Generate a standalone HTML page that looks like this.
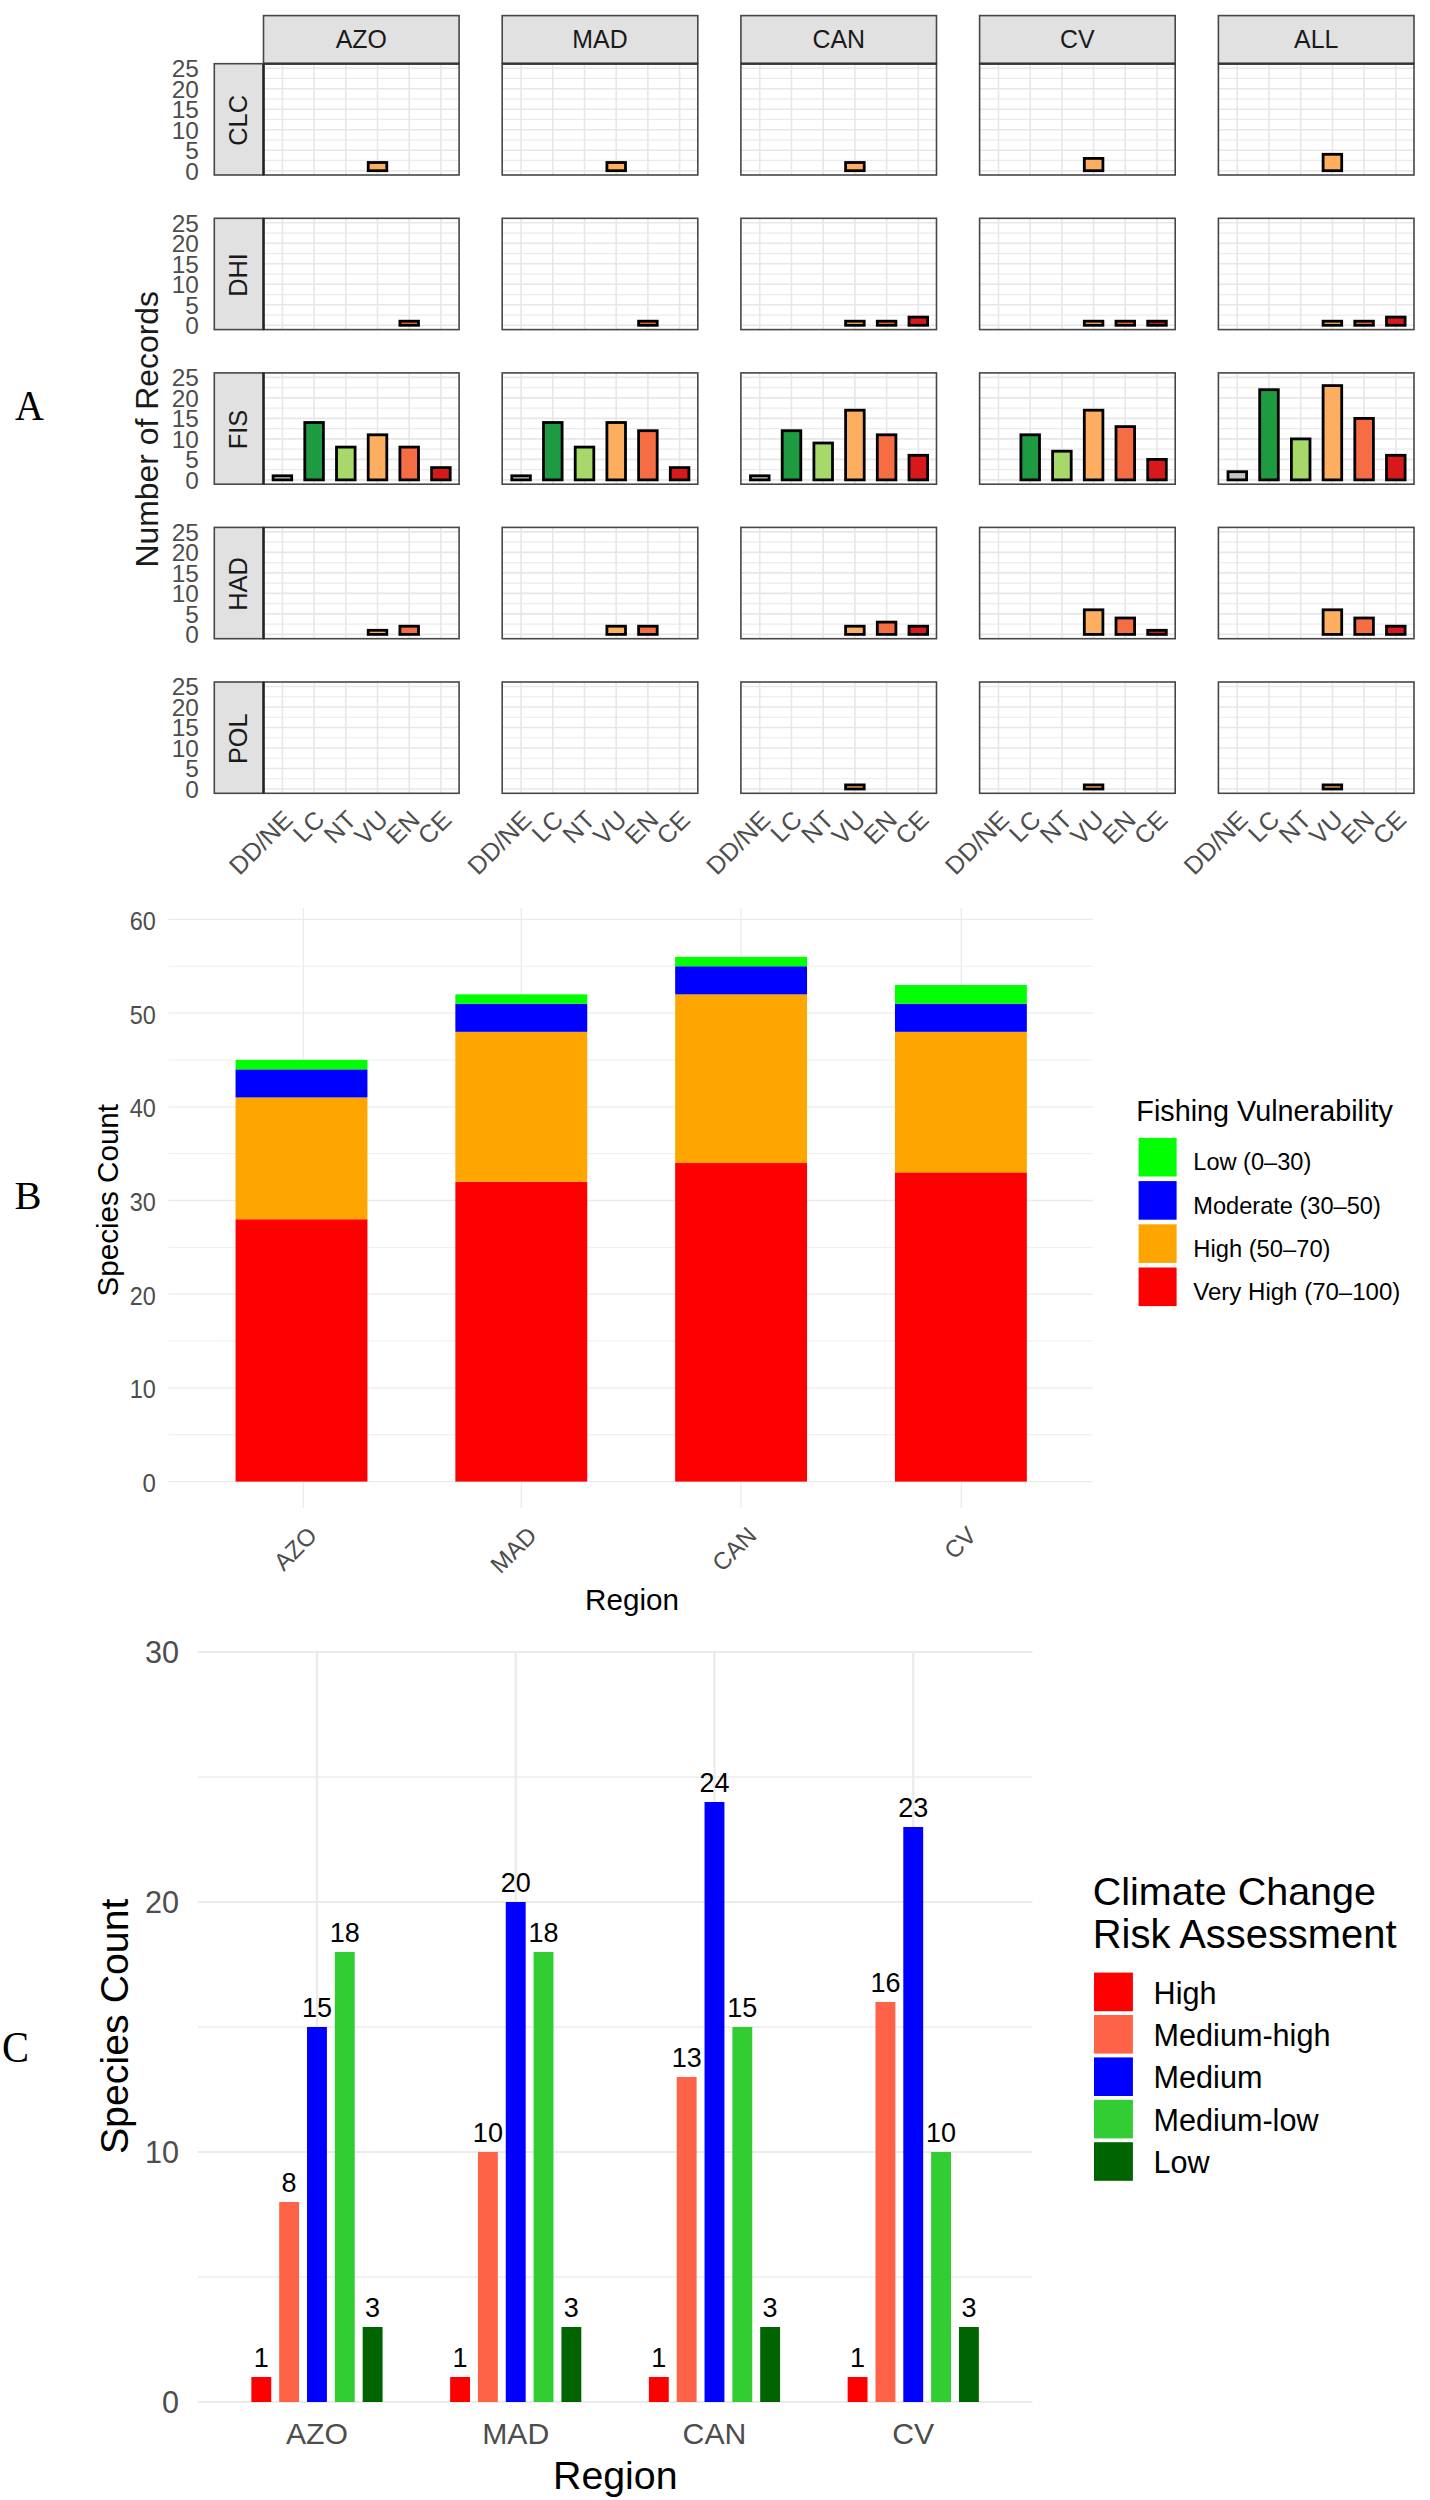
<!DOCTYPE html>
<html><head><meta charset="utf-8"><title>Figure</title>
<style>html,body{margin:0;padding:0;background:#fff;}svg{display:block;}
text{font-family:"Liberation Sans", sans-serif;}</style></head>
<body>
<svg width="1430" height="2500" viewBox="0 0 1430 2500" font-family="'Liberation Sans', sans-serif">
<rect x="0" y="0" width="1430" height="2500" fill="#fff"/>
<rect x="263.5" y="63.7" width="195.6" height="111.3" fill="#fff"/>
<line x1="263.5" x2="459.1" y1="160.45" y2="160.45" stroke="#ebebeb" stroke-width="1.2"/>
<line x1="263.5" x2="459.1" y1="139.95" y2="139.95" stroke="#ebebeb" stroke-width="1.2"/>
<line x1="263.5" x2="459.1" y1="119.45" y2="119.45" stroke="#ebebeb" stroke-width="1.2"/>
<line x1="263.5" x2="459.1" y1="98.95" y2="98.95" stroke="#ebebeb" stroke-width="1.2"/>
<line x1="263.5" x2="459.1" y1="78.45" y2="78.45" stroke="#ebebeb" stroke-width="1.2"/>
<line x1="263.5" x2="459.1" y1="170.7" y2="170.7" stroke="#e7e7e7" stroke-width="1.6"/>
<line x1="263.5" x2="459.1" y1="150.2" y2="150.2" stroke="#e7e7e7" stroke-width="1.6"/>
<line x1="263.5" x2="459.1" y1="129.7" y2="129.7" stroke="#e7e7e7" stroke-width="1.6"/>
<line x1="263.5" x2="459.1" y1="109.2" y2="109.2" stroke="#e7e7e7" stroke-width="1.6"/>
<line x1="263.5" x2="459.1" y1="88.7" y2="88.7" stroke="#e7e7e7" stroke-width="1.6"/>
<line x1="263.5" x2="459.1" y1="68.2" y2="68.2" stroke="#e7e7e7" stroke-width="1.6"/>
<line x1="282.4" x2="282.4" y1="63.7" y2="175" stroke="#e7e7e7" stroke-width="1.6"/>
<line x1="314.1" x2="314.1" y1="63.7" y2="175" stroke="#e7e7e7" stroke-width="1.6"/>
<line x1="345.8" x2="345.8" y1="63.7" y2="175" stroke="#e7e7e7" stroke-width="1.6"/>
<line x1="377.5" x2="377.5" y1="63.7" y2="175" stroke="#e7e7e7" stroke-width="1.6"/>
<line x1="409.2" x2="409.2" y1="63.7" y2="175" stroke="#e7e7e7" stroke-width="1.6"/>
<line x1="440.9" x2="440.9" y1="63.7" y2="175" stroke="#e7e7e7" stroke-width="1.6"/>
<rect x="368.2" y="162.5" width="18.6" height="8.2" fill="#fdae61" stroke="#000" stroke-width="2.8"/>
<rect x="263.5" y="63.7" width="195.6" height="111.3" fill="none" stroke="#474747" stroke-width="1.6"/>
<rect x="502.2" y="63.7" width="195.6" height="111.3" fill="#fff"/>
<line x1="502.2" x2="697.8" y1="160.45" y2="160.45" stroke="#ebebeb" stroke-width="1.2"/>
<line x1="502.2" x2="697.8" y1="139.95" y2="139.95" stroke="#ebebeb" stroke-width="1.2"/>
<line x1="502.2" x2="697.8" y1="119.45" y2="119.45" stroke="#ebebeb" stroke-width="1.2"/>
<line x1="502.2" x2="697.8" y1="98.95" y2="98.95" stroke="#ebebeb" stroke-width="1.2"/>
<line x1="502.2" x2="697.8" y1="78.45" y2="78.45" stroke="#ebebeb" stroke-width="1.2"/>
<line x1="502.2" x2="697.8" y1="170.7" y2="170.7" stroke="#e7e7e7" stroke-width="1.6"/>
<line x1="502.2" x2="697.8" y1="150.2" y2="150.2" stroke="#e7e7e7" stroke-width="1.6"/>
<line x1="502.2" x2="697.8" y1="129.7" y2="129.7" stroke="#e7e7e7" stroke-width="1.6"/>
<line x1="502.2" x2="697.8" y1="109.2" y2="109.2" stroke="#e7e7e7" stroke-width="1.6"/>
<line x1="502.2" x2="697.8" y1="88.7" y2="88.7" stroke="#e7e7e7" stroke-width="1.6"/>
<line x1="502.2" x2="697.8" y1="68.2" y2="68.2" stroke="#e7e7e7" stroke-width="1.6"/>
<line x1="521.1" x2="521.1" y1="63.7" y2="175" stroke="#e7e7e7" stroke-width="1.6"/>
<line x1="552.8" x2="552.8" y1="63.7" y2="175" stroke="#e7e7e7" stroke-width="1.6"/>
<line x1="584.5" x2="584.5" y1="63.7" y2="175" stroke="#e7e7e7" stroke-width="1.6"/>
<line x1="616.2" x2="616.2" y1="63.7" y2="175" stroke="#e7e7e7" stroke-width="1.6"/>
<line x1="647.9" x2="647.9" y1="63.7" y2="175" stroke="#e7e7e7" stroke-width="1.6"/>
<line x1="679.6" x2="679.6" y1="63.7" y2="175" stroke="#e7e7e7" stroke-width="1.6"/>
<rect x="606.9" y="162.5" width="18.6" height="8.2" fill="#fdae61" stroke="#000" stroke-width="2.8"/>
<rect x="502.2" y="63.7" width="195.6" height="111.3" fill="none" stroke="#474747" stroke-width="1.6"/>
<rect x="740.9" y="63.7" width="195.6" height="111.3" fill="#fff"/>
<line x1="740.9" x2="936.5" y1="160.45" y2="160.45" stroke="#ebebeb" stroke-width="1.2"/>
<line x1="740.9" x2="936.5" y1="139.95" y2="139.95" stroke="#ebebeb" stroke-width="1.2"/>
<line x1="740.9" x2="936.5" y1="119.45" y2="119.45" stroke="#ebebeb" stroke-width="1.2"/>
<line x1="740.9" x2="936.5" y1="98.95" y2="98.95" stroke="#ebebeb" stroke-width="1.2"/>
<line x1="740.9" x2="936.5" y1="78.45" y2="78.45" stroke="#ebebeb" stroke-width="1.2"/>
<line x1="740.9" x2="936.5" y1="170.7" y2="170.7" stroke="#e7e7e7" stroke-width="1.6"/>
<line x1="740.9" x2="936.5" y1="150.2" y2="150.2" stroke="#e7e7e7" stroke-width="1.6"/>
<line x1="740.9" x2="936.5" y1="129.7" y2="129.7" stroke="#e7e7e7" stroke-width="1.6"/>
<line x1="740.9" x2="936.5" y1="109.2" y2="109.2" stroke="#e7e7e7" stroke-width="1.6"/>
<line x1="740.9" x2="936.5" y1="88.7" y2="88.7" stroke="#e7e7e7" stroke-width="1.6"/>
<line x1="740.9" x2="936.5" y1="68.2" y2="68.2" stroke="#e7e7e7" stroke-width="1.6"/>
<line x1="759.8" x2="759.8" y1="63.7" y2="175" stroke="#e7e7e7" stroke-width="1.6"/>
<line x1="791.5" x2="791.5" y1="63.7" y2="175" stroke="#e7e7e7" stroke-width="1.6"/>
<line x1="823.2" x2="823.2" y1="63.7" y2="175" stroke="#e7e7e7" stroke-width="1.6"/>
<line x1="854.9" x2="854.9" y1="63.7" y2="175" stroke="#e7e7e7" stroke-width="1.6"/>
<line x1="886.6" x2="886.6" y1="63.7" y2="175" stroke="#e7e7e7" stroke-width="1.6"/>
<line x1="918.3" x2="918.3" y1="63.7" y2="175" stroke="#e7e7e7" stroke-width="1.6"/>
<rect x="845.6" y="162.5" width="18.6" height="8.2" fill="#fdae61" stroke="#000" stroke-width="2.8"/>
<rect x="740.9" y="63.7" width="195.6" height="111.3" fill="none" stroke="#474747" stroke-width="1.6"/>
<rect x="979.6" y="63.7" width="195.6" height="111.3" fill="#fff"/>
<line x1="979.6" x2="1175.2" y1="160.45" y2="160.45" stroke="#ebebeb" stroke-width="1.2"/>
<line x1="979.6" x2="1175.2" y1="139.95" y2="139.95" stroke="#ebebeb" stroke-width="1.2"/>
<line x1="979.6" x2="1175.2" y1="119.45" y2="119.45" stroke="#ebebeb" stroke-width="1.2"/>
<line x1="979.6" x2="1175.2" y1="98.95" y2="98.95" stroke="#ebebeb" stroke-width="1.2"/>
<line x1="979.6" x2="1175.2" y1="78.45" y2="78.45" stroke="#ebebeb" stroke-width="1.2"/>
<line x1="979.6" x2="1175.2" y1="170.7" y2="170.7" stroke="#e7e7e7" stroke-width="1.6"/>
<line x1="979.6" x2="1175.2" y1="150.2" y2="150.2" stroke="#e7e7e7" stroke-width="1.6"/>
<line x1="979.6" x2="1175.2" y1="129.7" y2="129.7" stroke="#e7e7e7" stroke-width="1.6"/>
<line x1="979.6" x2="1175.2" y1="109.2" y2="109.2" stroke="#e7e7e7" stroke-width="1.6"/>
<line x1="979.6" x2="1175.2" y1="88.7" y2="88.7" stroke="#e7e7e7" stroke-width="1.6"/>
<line x1="979.6" x2="1175.2" y1="68.2" y2="68.2" stroke="#e7e7e7" stroke-width="1.6"/>
<line x1="998.5" x2="998.5" y1="63.7" y2="175" stroke="#e7e7e7" stroke-width="1.6"/>
<line x1="1030.2" x2="1030.2" y1="63.7" y2="175" stroke="#e7e7e7" stroke-width="1.6"/>
<line x1="1061.9" x2="1061.9" y1="63.7" y2="175" stroke="#e7e7e7" stroke-width="1.6"/>
<line x1="1093.6" x2="1093.6" y1="63.7" y2="175" stroke="#e7e7e7" stroke-width="1.6"/>
<line x1="1125.3" x2="1125.3" y1="63.7" y2="175" stroke="#e7e7e7" stroke-width="1.6"/>
<line x1="1157" x2="1157" y1="63.7" y2="175" stroke="#e7e7e7" stroke-width="1.6"/>
<rect x="1084.3" y="158.4" width="18.6" height="12.3" fill="#fdae61" stroke="#000" stroke-width="2.8"/>
<rect x="979.6" y="63.7" width="195.6" height="111.3" fill="none" stroke="#474747" stroke-width="1.6"/>
<rect x="1218.4" y="63.7" width="195.6" height="111.3" fill="#fff"/>
<line x1="1218.4" x2="1414" y1="160.45" y2="160.45" stroke="#ebebeb" stroke-width="1.2"/>
<line x1="1218.4" x2="1414" y1="139.95" y2="139.95" stroke="#ebebeb" stroke-width="1.2"/>
<line x1="1218.4" x2="1414" y1="119.45" y2="119.45" stroke="#ebebeb" stroke-width="1.2"/>
<line x1="1218.4" x2="1414" y1="98.95" y2="98.95" stroke="#ebebeb" stroke-width="1.2"/>
<line x1="1218.4" x2="1414" y1="78.45" y2="78.45" stroke="#ebebeb" stroke-width="1.2"/>
<line x1="1218.4" x2="1414" y1="170.7" y2="170.7" stroke="#e7e7e7" stroke-width="1.6"/>
<line x1="1218.4" x2="1414" y1="150.2" y2="150.2" stroke="#e7e7e7" stroke-width="1.6"/>
<line x1="1218.4" x2="1414" y1="129.7" y2="129.7" stroke="#e7e7e7" stroke-width="1.6"/>
<line x1="1218.4" x2="1414" y1="109.2" y2="109.2" stroke="#e7e7e7" stroke-width="1.6"/>
<line x1="1218.4" x2="1414" y1="88.7" y2="88.7" stroke="#e7e7e7" stroke-width="1.6"/>
<line x1="1218.4" x2="1414" y1="68.2" y2="68.2" stroke="#e7e7e7" stroke-width="1.6"/>
<line x1="1237.3" x2="1237.3" y1="63.7" y2="175" stroke="#e7e7e7" stroke-width="1.6"/>
<line x1="1269" x2="1269" y1="63.7" y2="175" stroke="#e7e7e7" stroke-width="1.6"/>
<line x1="1300.7" x2="1300.7" y1="63.7" y2="175" stroke="#e7e7e7" stroke-width="1.6"/>
<line x1="1332.4" x2="1332.4" y1="63.7" y2="175" stroke="#e7e7e7" stroke-width="1.6"/>
<line x1="1364.1" x2="1364.1" y1="63.7" y2="175" stroke="#e7e7e7" stroke-width="1.6"/>
<line x1="1395.8" x2="1395.8" y1="63.7" y2="175" stroke="#e7e7e7" stroke-width="1.6"/>
<rect x="1323.1" y="154.3" width="18.6" height="16.4" fill="#fdae61" stroke="#000" stroke-width="2.8"/>
<rect x="1218.4" y="63.7" width="195.6" height="111.3" fill="none" stroke="#474747" stroke-width="1.6"/>
<rect x="214.3" y="63.7" width="49.2" height="111.3" fill="#e1e1e1" stroke="#474747" stroke-width="1.6"/>
<line x1="263.5" x2="263.5" y1="63.7" y2="175" stroke="#222" stroke-width="2.4"/>
<text x="247.1" y="120.35" font-size="25.4" fill="#1a1a1a" text-anchor="middle" transform="rotate(-90 247.1 120.35)">CLC</text>
<text x="198.8" y="179.5" font-size="24.4" fill="#4d4d4d" text-anchor="end">0</text>
<text x="198.8" y="159" font-size="24.4" fill="#4d4d4d" text-anchor="end">5</text>
<text x="198.8" y="138.5" font-size="24.4" fill="#4d4d4d" text-anchor="end">10</text>
<text x="198.8" y="118" font-size="24.4" fill="#4d4d4d" text-anchor="end">15</text>
<text x="198.8" y="97.5" font-size="24.4" fill="#4d4d4d" text-anchor="end">20</text>
<text x="198.8" y="77" font-size="24.4" fill="#4d4d4d" text-anchor="end">25</text>
<rect x="263.5" y="218.3" width="195.6" height="111.3" fill="#fff"/>
<line x1="263.5" x2="459.1" y1="315.05" y2="315.05" stroke="#ebebeb" stroke-width="1.2"/>
<line x1="263.5" x2="459.1" y1="294.55" y2="294.55" stroke="#ebebeb" stroke-width="1.2"/>
<line x1="263.5" x2="459.1" y1="274.05" y2="274.05" stroke="#ebebeb" stroke-width="1.2"/>
<line x1="263.5" x2="459.1" y1="253.55" y2="253.55" stroke="#ebebeb" stroke-width="1.2"/>
<line x1="263.5" x2="459.1" y1="233.05" y2="233.05" stroke="#ebebeb" stroke-width="1.2"/>
<line x1="263.5" x2="459.1" y1="325.3" y2="325.3" stroke="#e7e7e7" stroke-width="1.6"/>
<line x1="263.5" x2="459.1" y1="304.8" y2="304.8" stroke="#e7e7e7" stroke-width="1.6"/>
<line x1="263.5" x2="459.1" y1="284.3" y2="284.3" stroke="#e7e7e7" stroke-width="1.6"/>
<line x1="263.5" x2="459.1" y1="263.8" y2="263.8" stroke="#e7e7e7" stroke-width="1.6"/>
<line x1="263.5" x2="459.1" y1="243.3" y2="243.3" stroke="#e7e7e7" stroke-width="1.6"/>
<line x1="263.5" x2="459.1" y1="222.8" y2="222.8" stroke="#e7e7e7" stroke-width="1.6"/>
<line x1="282.4" x2="282.4" y1="218.3" y2="329.6" stroke="#e7e7e7" stroke-width="1.6"/>
<line x1="314.1" x2="314.1" y1="218.3" y2="329.6" stroke="#e7e7e7" stroke-width="1.6"/>
<line x1="345.8" x2="345.8" y1="218.3" y2="329.6" stroke="#e7e7e7" stroke-width="1.6"/>
<line x1="377.5" x2="377.5" y1="218.3" y2="329.6" stroke="#e7e7e7" stroke-width="1.6"/>
<line x1="409.2" x2="409.2" y1="218.3" y2="329.6" stroke="#e7e7e7" stroke-width="1.6"/>
<line x1="440.9" x2="440.9" y1="218.3" y2="329.6" stroke="#e7e7e7" stroke-width="1.6"/>
<rect x="399.9" y="321.2" width="18.6" height="4.1" fill="#f46d43" stroke="#000" stroke-width="2.8"/>
<rect x="263.5" y="218.3" width="195.6" height="111.3" fill="none" stroke="#474747" stroke-width="1.6"/>
<rect x="502.2" y="218.3" width="195.6" height="111.3" fill="#fff"/>
<line x1="502.2" x2="697.8" y1="315.05" y2="315.05" stroke="#ebebeb" stroke-width="1.2"/>
<line x1="502.2" x2="697.8" y1="294.55" y2="294.55" stroke="#ebebeb" stroke-width="1.2"/>
<line x1="502.2" x2="697.8" y1="274.05" y2="274.05" stroke="#ebebeb" stroke-width="1.2"/>
<line x1="502.2" x2="697.8" y1="253.55" y2="253.55" stroke="#ebebeb" stroke-width="1.2"/>
<line x1="502.2" x2="697.8" y1="233.05" y2="233.05" stroke="#ebebeb" stroke-width="1.2"/>
<line x1="502.2" x2="697.8" y1="325.3" y2="325.3" stroke="#e7e7e7" stroke-width="1.6"/>
<line x1="502.2" x2="697.8" y1="304.8" y2="304.8" stroke="#e7e7e7" stroke-width="1.6"/>
<line x1="502.2" x2="697.8" y1="284.3" y2="284.3" stroke="#e7e7e7" stroke-width="1.6"/>
<line x1="502.2" x2="697.8" y1="263.8" y2="263.8" stroke="#e7e7e7" stroke-width="1.6"/>
<line x1="502.2" x2="697.8" y1="243.3" y2="243.3" stroke="#e7e7e7" stroke-width="1.6"/>
<line x1="502.2" x2="697.8" y1="222.8" y2="222.8" stroke="#e7e7e7" stroke-width="1.6"/>
<line x1="521.1" x2="521.1" y1="218.3" y2="329.6" stroke="#e7e7e7" stroke-width="1.6"/>
<line x1="552.8" x2="552.8" y1="218.3" y2="329.6" stroke="#e7e7e7" stroke-width="1.6"/>
<line x1="584.5" x2="584.5" y1="218.3" y2="329.6" stroke="#e7e7e7" stroke-width="1.6"/>
<line x1="616.2" x2="616.2" y1="218.3" y2="329.6" stroke="#e7e7e7" stroke-width="1.6"/>
<line x1="647.9" x2="647.9" y1="218.3" y2="329.6" stroke="#e7e7e7" stroke-width="1.6"/>
<line x1="679.6" x2="679.6" y1="218.3" y2="329.6" stroke="#e7e7e7" stroke-width="1.6"/>
<rect x="638.6" y="321.2" width="18.6" height="4.1" fill="#f46d43" stroke="#000" stroke-width="2.8"/>
<rect x="502.2" y="218.3" width="195.6" height="111.3" fill="none" stroke="#474747" stroke-width="1.6"/>
<rect x="740.9" y="218.3" width="195.6" height="111.3" fill="#fff"/>
<line x1="740.9" x2="936.5" y1="315.05" y2="315.05" stroke="#ebebeb" stroke-width="1.2"/>
<line x1="740.9" x2="936.5" y1="294.55" y2="294.55" stroke="#ebebeb" stroke-width="1.2"/>
<line x1="740.9" x2="936.5" y1="274.05" y2="274.05" stroke="#ebebeb" stroke-width="1.2"/>
<line x1="740.9" x2="936.5" y1="253.55" y2="253.55" stroke="#ebebeb" stroke-width="1.2"/>
<line x1="740.9" x2="936.5" y1="233.05" y2="233.05" stroke="#ebebeb" stroke-width="1.2"/>
<line x1="740.9" x2="936.5" y1="325.3" y2="325.3" stroke="#e7e7e7" stroke-width="1.6"/>
<line x1="740.9" x2="936.5" y1="304.8" y2="304.8" stroke="#e7e7e7" stroke-width="1.6"/>
<line x1="740.9" x2="936.5" y1="284.3" y2="284.3" stroke="#e7e7e7" stroke-width="1.6"/>
<line x1="740.9" x2="936.5" y1="263.8" y2="263.8" stroke="#e7e7e7" stroke-width="1.6"/>
<line x1="740.9" x2="936.5" y1="243.3" y2="243.3" stroke="#e7e7e7" stroke-width="1.6"/>
<line x1="740.9" x2="936.5" y1="222.8" y2="222.8" stroke="#e7e7e7" stroke-width="1.6"/>
<line x1="759.8" x2="759.8" y1="218.3" y2="329.6" stroke="#e7e7e7" stroke-width="1.6"/>
<line x1="791.5" x2="791.5" y1="218.3" y2="329.6" stroke="#e7e7e7" stroke-width="1.6"/>
<line x1="823.2" x2="823.2" y1="218.3" y2="329.6" stroke="#e7e7e7" stroke-width="1.6"/>
<line x1="854.9" x2="854.9" y1="218.3" y2="329.6" stroke="#e7e7e7" stroke-width="1.6"/>
<line x1="886.6" x2="886.6" y1="218.3" y2="329.6" stroke="#e7e7e7" stroke-width="1.6"/>
<line x1="918.3" x2="918.3" y1="218.3" y2="329.6" stroke="#e7e7e7" stroke-width="1.6"/>
<rect x="845.6" y="321.2" width="18.6" height="4.1" fill="#fdae61" stroke="#000" stroke-width="2.8"/>
<rect x="877.3" y="321.2" width="18.6" height="4.1" fill="#f46d43" stroke="#000" stroke-width="2.8"/>
<rect x="909" y="317.1" width="18.6" height="8.2" fill="#d7191c" stroke="#000" stroke-width="2.8"/>
<rect x="740.9" y="218.3" width="195.6" height="111.3" fill="none" stroke="#474747" stroke-width="1.6"/>
<rect x="979.6" y="218.3" width="195.6" height="111.3" fill="#fff"/>
<line x1="979.6" x2="1175.2" y1="315.05" y2="315.05" stroke="#ebebeb" stroke-width="1.2"/>
<line x1="979.6" x2="1175.2" y1="294.55" y2="294.55" stroke="#ebebeb" stroke-width="1.2"/>
<line x1="979.6" x2="1175.2" y1="274.05" y2="274.05" stroke="#ebebeb" stroke-width="1.2"/>
<line x1="979.6" x2="1175.2" y1="253.55" y2="253.55" stroke="#ebebeb" stroke-width="1.2"/>
<line x1="979.6" x2="1175.2" y1="233.05" y2="233.05" stroke="#ebebeb" stroke-width="1.2"/>
<line x1="979.6" x2="1175.2" y1="325.3" y2="325.3" stroke="#e7e7e7" stroke-width="1.6"/>
<line x1="979.6" x2="1175.2" y1="304.8" y2="304.8" stroke="#e7e7e7" stroke-width="1.6"/>
<line x1="979.6" x2="1175.2" y1="284.3" y2="284.3" stroke="#e7e7e7" stroke-width="1.6"/>
<line x1="979.6" x2="1175.2" y1="263.8" y2="263.8" stroke="#e7e7e7" stroke-width="1.6"/>
<line x1="979.6" x2="1175.2" y1="243.3" y2="243.3" stroke="#e7e7e7" stroke-width="1.6"/>
<line x1="979.6" x2="1175.2" y1="222.8" y2="222.8" stroke="#e7e7e7" stroke-width="1.6"/>
<line x1="998.5" x2="998.5" y1="218.3" y2="329.6" stroke="#e7e7e7" stroke-width="1.6"/>
<line x1="1030.2" x2="1030.2" y1="218.3" y2="329.6" stroke="#e7e7e7" stroke-width="1.6"/>
<line x1="1061.9" x2="1061.9" y1="218.3" y2="329.6" stroke="#e7e7e7" stroke-width="1.6"/>
<line x1="1093.6" x2="1093.6" y1="218.3" y2="329.6" stroke="#e7e7e7" stroke-width="1.6"/>
<line x1="1125.3" x2="1125.3" y1="218.3" y2="329.6" stroke="#e7e7e7" stroke-width="1.6"/>
<line x1="1157" x2="1157" y1="218.3" y2="329.6" stroke="#e7e7e7" stroke-width="1.6"/>
<rect x="1084.3" y="321.2" width="18.6" height="4.1" fill="#fdae61" stroke="#000" stroke-width="2.8"/>
<rect x="1116" y="321.2" width="18.6" height="4.1" fill="#f46d43" stroke="#000" stroke-width="2.8"/>
<rect x="1147.7" y="321.2" width="18.6" height="4.1" fill="#d7191c" stroke="#000" stroke-width="2.8"/>
<rect x="979.6" y="218.3" width="195.6" height="111.3" fill="none" stroke="#474747" stroke-width="1.6"/>
<rect x="1218.4" y="218.3" width="195.6" height="111.3" fill="#fff"/>
<line x1="1218.4" x2="1414" y1="315.05" y2="315.05" stroke="#ebebeb" stroke-width="1.2"/>
<line x1="1218.4" x2="1414" y1="294.55" y2="294.55" stroke="#ebebeb" stroke-width="1.2"/>
<line x1="1218.4" x2="1414" y1="274.05" y2="274.05" stroke="#ebebeb" stroke-width="1.2"/>
<line x1="1218.4" x2="1414" y1="253.55" y2="253.55" stroke="#ebebeb" stroke-width="1.2"/>
<line x1="1218.4" x2="1414" y1="233.05" y2="233.05" stroke="#ebebeb" stroke-width="1.2"/>
<line x1="1218.4" x2="1414" y1="325.3" y2="325.3" stroke="#e7e7e7" stroke-width="1.6"/>
<line x1="1218.4" x2="1414" y1="304.8" y2="304.8" stroke="#e7e7e7" stroke-width="1.6"/>
<line x1="1218.4" x2="1414" y1="284.3" y2="284.3" stroke="#e7e7e7" stroke-width="1.6"/>
<line x1="1218.4" x2="1414" y1="263.8" y2="263.8" stroke="#e7e7e7" stroke-width="1.6"/>
<line x1="1218.4" x2="1414" y1="243.3" y2="243.3" stroke="#e7e7e7" stroke-width="1.6"/>
<line x1="1218.4" x2="1414" y1="222.8" y2="222.8" stroke="#e7e7e7" stroke-width="1.6"/>
<line x1="1237.3" x2="1237.3" y1="218.3" y2="329.6" stroke="#e7e7e7" stroke-width="1.6"/>
<line x1="1269" x2="1269" y1="218.3" y2="329.6" stroke="#e7e7e7" stroke-width="1.6"/>
<line x1="1300.7" x2="1300.7" y1="218.3" y2="329.6" stroke="#e7e7e7" stroke-width="1.6"/>
<line x1="1332.4" x2="1332.4" y1="218.3" y2="329.6" stroke="#e7e7e7" stroke-width="1.6"/>
<line x1="1364.1" x2="1364.1" y1="218.3" y2="329.6" stroke="#e7e7e7" stroke-width="1.6"/>
<line x1="1395.8" x2="1395.8" y1="218.3" y2="329.6" stroke="#e7e7e7" stroke-width="1.6"/>
<rect x="1323.1" y="321.2" width="18.6" height="4.1" fill="#fdae61" stroke="#000" stroke-width="2.8"/>
<rect x="1354.8" y="321.2" width="18.6" height="4.1" fill="#f46d43" stroke="#000" stroke-width="2.8"/>
<rect x="1386.5" y="317.1" width="18.6" height="8.2" fill="#d7191c" stroke="#000" stroke-width="2.8"/>
<rect x="1218.4" y="218.3" width="195.6" height="111.3" fill="none" stroke="#474747" stroke-width="1.6"/>
<rect x="214.3" y="218.3" width="49.2" height="111.3" fill="#e1e1e1" stroke="#474747" stroke-width="1.6"/>
<line x1="263.5" x2="263.5" y1="218.3" y2="329.6" stroke="#222" stroke-width="2.4"/>
<text x="247.1" y="274.95" font-size="25.4" fill="#1a1a1a" text-anchor="middle" transform="rotate(-90 247.1 274.95)">DHI</text>
<text x="198.8" y="334.1" font-size="24.4" fill="#4d4d4d" text-anchor="end">0</text>
<text x="198.8" y="313.6" font-size="24.4" fill="#4d4d4d" text-anchor="end">5</text>
<text x="198.8" y="293.1" font-size="24.4" fill="#4d4d4d" text-anchor="end">10</text>
<text x="198.8" y="272.6" font-size="24.4" fill="#4d4d4d" text-anchor="end">15</text>
<text x="198.8" y="252.1" font-size="24.4" fill="#4d4d4d" text-anchor="end">20</text>
<text x="198.8" y="231.6" font-size="24.4" fill="#4d4d4d" text-anchor="end">25</text>
<rect x="263.5" y="372.9" width="195.6" height="111.3" fill="#fff"/>
<line x1="263.5" x2="459.1" y1="469.65" y2="469.65" stroke="#ebebeb" stroke-width="1.2"/>
<line x1="263.5" x2="459.1" y1="449.15" y2="449.15" stroke="#ebebeb" stroke-width="1.2"/>
<line x1="263.5" x2="459.1" y1="428.65" y2="428.65" stroke="#ebebeb" stroke-width="1.2"/>
<line x1="263.5" x2="459.1" y1="408.15" y2="408.15" stroke="#ebebeb" stroke-width="1.2"/>
<line x1="263.5" x2="459.1" y1="387.65" y2="387.65" stroke="#ebebeb" stroke-width="1.2"/>
<line x1="263.5" x2="459.1" y1="479.9" y2="479.9" stroke="#e7e7e7" stroke-width="1.6"/>
<line x1="263.5" x2="459.1" y1="459.4" y2="459.4" stroke="#e7e7e7" stroke-width="1.6"/>
<line x1="263.5" x2="459.1" y1="438.9" y2="438.9" stroke="#e7e7e7" stroke-width="1.6"/>
<line x1="263.5" x2="459.1" y1="418.4" y2="418.4" stroke="#e7e7e7" stroke-width="1.6"/>
<line x1="263.5" x2="459.1" y1="397.9" y2="397.9" stroke="#e7e7e7" stroke-width="1.6"/>
<line x1="263.5" x2="459.1" y1="377.4" y2="377.4" stroke="#e7e7e7" stroke-width="1.6"/>
<line x1="282.4" x2="282.4" y1="372.9" y2="484.2" stroke="#e7e7e7" stroke-width="1.6"/>
<line x1="314.1" x2="314.1" y1="372.9" y2="484.2" stroke="#e7e7e7" stroke-width="1.6"/>
<line x1="345.8" x2="345.8" y1="372.9" y2="484.2" stroke="#e7e7e7" stroke-width="1.6"/>
<line x1="377.5" x2="377.5" y1="372.9" y2="484.2" stroke="#e7e7e7" stroke-width="1.6"/>
<line x1="409.2" x2="409.2" y1="372.9" y2="484.2" stroke="#e7e7e7" stroke-width="1.6"/>
<line x1="440.9" x2="440.9" y1="372.9" y2="484.2" stroke="#e7e7e7" stroke-width="1.6"/>
<rect x="273.1" y="475.8" width="18.6" height="4.1" fill="#c4c4c4" stroke="#000" stroke-width="2.8"/>
<rect x="304.8" y="422.5" width="18.6" height="57.4" fill="#1e9a40" stroke="#000" stroke-width="2.8"/>
<rect x="336.5" y="447.1" width="18.6" height="32.8" fill="#a6d96a" stroke="#000" stroke-width="2.8"/>
<rect x="368.2" y="434.8" width="18.6" height="45.1" fill="#fdae61" stroke="#000" stroke-width="2.8"/>
<rect x="399.9" y="447.1" width="18.6" height="32.8" fill="#f46d43" stroke="#000" stroke-width="2.8"/>
<rect x="431.6" y="467.6" width="18.6" height="12.3" fill="#d7191c" stroke="#000" stroke-width="2.8"/>
<rect x="263.5" y="372.9" width="195.6" height="111.3" fill="none" stroke="#474747" stroke-width="1.6"/>
<rect x="502.2" y="372.9" width="195.6" height="111.3" fill="#fff"/>
<line x1="502.2" x2="697.8" y1="469.65" y2="469.65" stroke="#ebebeb" stroke-width="1.2"/>
<line x1="502.2" x2="697.8" y1="449.15" y2="449.15" stroke="#ebebeb" stroke-width="1.2"/>
<line x1="502.2" x2="697.8" y1="428.65" y2="428.65" stroke="#ebebeb" stroke-width="1.2"/>
<line x1="502.2" x2="697.8" y1="408.15" y2="408.15" stroke="#ebebeb" stroke-width="1.2"/>
<line x1="502.2" x2="697.8" y1="387.65" y2="387.65" stroke="#ebebeb" stroke-width="1.2"/>
<line x1="502.2" x2="697.8" y1="479.9" y2="479.9" stroke="#e7e7e7" stroke-width="1.6"/>
<line x1="502.2" x2="697.8" y1="459.4" y2="459.4" stroke="#e7e7e7" stroke-width="1.6"/>
<line x1="502.2" x2="697.8" y1="438.9" y2="438.9" stroke="#e7e7e7" stroke-width="1.6"/>
<line x1="502.2" x2="697.8" y1="418.4" y2="418.4" stroke="#e7e7e7" stroke-width="1.6"/>
<line x1="502.2" x2="697.8" y1="397.9" y2="397.9" stroke="#e7e7e7" stroke-width="1.6"/>
<line x1="502.2" x2="697.8" y1="377.4" y2="377.4" stroke="#e7e7e7" stroke-width="1.6"/>
<line x1="521.1" x2="521.1" y1="372.9" y2="484.2" stroke="#e7e7e7" stroke-width="1.6"/>
<line x1="552.8" x2="552.8" y1="372.9" y2="484.2" stroke="#e7e7e7" stroke-width="1.6"/>
<line x1="584.5" x2="584.5" y1="372.9" y2="484.2" stroke="#e7e7e7" stroke-width="1.6"/>
<line x1="616.2" x2="616.2" y1="372.9" y2="484.2" stroke="#e7e7e7" stroke-width="1.6"/>
<line x1="647.9" x2="647.9" y1="372.9" y2="484.2" stroke="#e7e7e7" stroke-width="1.6"/>
<line x1="679.6" x2="679.6" y1="372.9" y2="484.2" stroke="#e7e7e7" stroke-width="1.6"/>
<rect x="511.8" y="475.8" width="18.6" height="4.1" fill="#c4c4c4" stroke="#000" stroke-width="2.8"/>
<rect x="543.5" y="422.5" width="18.6" height="57.4" fill="#1e9a40" stroke="#000" stroke-width="2.8"/>
<rect x="575.2" y="447.1" width="18.6" height="32.8" fill="#a6d96a" stroke="#000" stroke-width="2.8"/>
<rect x="606.9" y="422.5" width="18.6" height="57.4" fill="#fdae61" stroke="#000" stroke-width="2.8"/>
<rect x="638.6" y="430.7" width="18.6" height="49.2" fill="#f46d43" stroke="#000" stroke-width="2.8"/>
<rect x="670.3" y="467.6" width="18.6" height="12.3" fill="#d7191c" stroke="#000" stroke-width="2.8"/>
<rect x="502.2" y="372.9" width="195.6" height="111.3" fill="none" stroke="#474747" stroke-width="1.6"/>
<rect x="740.9" y="372.9" width="195.6" height="111.3" fill="#fff"/>
<line x1="740.9" x2="936.5" y1="469.65" y2="469.65" stroke="#ebebeb" stroke-width="1.2"/>
<line x1="740.9" x2="936.5" y1="449.15" y2="449.15" stroke="#ebebeb" stroke-width="1.2"/>
<line x1="740.9" x2="936.5" y1="428.65" y2="428.65" stroke="#ebebeb" stroke-width="1.2"/>
<line x1="740.9" x2="936.5" y1="408.15" y2="408.15" stroke="#ebebeb" stroke-width="1.2"/>
<line x1="740.9" x2="936.5" y1="387.65" y2="387.65" stroke="#ebebeb" stroke-width="1.2"/>
<line x1="740.9" x2="936.5" y1="479.9" y2="479.9" stroke="#e7e7e7" stroke-width="1.6"/>
<line x1="740.9" x2="936.5" y1="459.4" y2="459.4" stroke="#e7e7e7" stroke-width="1.6"/>
<line x1="740.9" x2="936.5" y1="438.9" y2="438.9" stroke="#e7e7e7" stroke-width="1.6"/>
<line x1="740.9" x2="936.5" y1="418.4" y2="418.4" stroke="#e7e7e7" stroke-width="1.6"/>
<line x1="740.9" x2="936.5" y1="397.9" y2="397.9" stroke="#e7e7e7" stroke-width="1.6"/>
<line x1="740.9" x2="936.5" y1="377.4" y2="377.4" stroke="#e7e7e7" stroke-width="1.6"/>
<line x1="759.8" x2="759.8" y1="372.9" y2="484.2" stroke="#e7e7e7" stroke-width="1.6"/>
<line x1="791.5" x2="791.5" y1="372.9" y2="484.2" stroke="#e7e7e7" stroke-width="1.6"/>
<line x1="823.2" x2="823.2" y1="372.9" y2="484.2" stroke="#e7e7e7" stroke-width="1.6"/>
<line x1="854.9" x2="854.9" y1="372.9" y2="484.2" stroke="#e7e7e7" stroke-width="1.6"/>
<line x1="886.6" x2="886.6" y1="372.9" y2="484.2" stroke="#e7e7e7" stroke-width="1.6"/>
<line x1="918.3" x2="918.3" y1="372.9" y2="484.2" stroke="#e7e7e7" stroke-width="1.6"/>
<rect x="750.5" y="475.8" width="18.6" height="4.1" fill="#c4c4c4" stroke="#000" stroke-width="2.8"/>
<rect x="782.2" y="430.7" width="18.6" height="49.2" fill="#1e9a40" stroke="#000" stroke-width="2.8"/>
<rect x="813.9" y="443" width="18.6" height="36.9" fill="#a6d96a" stroke="#000" stroke-width="2.8"/>
<rect x="845.6" y="410.2" width="18.6" height="69.7" fill="#fdae61" stroke="#000" stroke-width="2.8"/>
<rect x="877.3" y="434.8" width="18.6" height="45.1" fill="#f46d43" stroke="#000" stroke-width="2.8"/>
<rect x="909" y="455.3" width="18.6" height="24.6" fill="#d7191c" stroke="#000" stroke-width="2.8"/>
<rect x="740.9" y="372.9" width="195.6" height="111.3" fill="none" stroke="#474747" stroke-width="1.6"/>
<rect x="979.6" y="372.9" width="195.6" height="111.3" fill="#fff"/>
<line x1="979.6" x2="1175.2" y1="469.65" y2="469.65" stroke="#ebebeb" stroke-width="1.2"/>
<line x1="979.6" x2="1175.2" y1="449.15" y2="449.15" stroke="#ebebeb" stroke-width="1.2"/>
<line x1="979.6" x2="1175.2" y1="428.65" y2="428.65" stroke="#ebebeb" stroke-width="1.2"/>
<line x1="979.6" x2="1175.2" y1="408.15" y2="408.15" stroke="#ebebeb" stroke-width="1.2"/>
<line x1="979.6" x2="1175.2" y1="387.65" y2="387.65" stroke="#ebebeb" stroke-width="1.2"/>
<line x1="979.6" x2="1175.2" y1="479.9" y2="479.9" stroke="#e7e7e7" stroke-width="1.6"/>
<line x1="979.6" x2="1175.2" y1="459.4" y2="459.4" stroke="#e7e7e7" stroke-width="1.6"/>
<line x1="979.6" x2="1175.2" y1="438.9" y2="438.9" stroke="#e7e7e7" stroke-width="1.6"/>
<line x1="979.6" x2="1175.2" y1="418.4" y2="418.4" stroke="#e7e7e7" stroke-width="1.6"/>
<line x1="979.6" x2="1175.2" y1="397.9" y2="397.9" stroke="#e7e7e7" stroke-width="1.6"/>
<line x1="979.6" x2="1175.2" y1="377.4" y2="377.4" stroke="#e7e7e7" stroke-width="1.6"/>
<line x1="998.5" x2="998.5" y1="372.9" y2="484.2" stroke="#e7e7e7" stroke-width="1.6"/>
<line x1="1030.2" x2="1030.2" y1="372.9" y2="484.2" stroke="#e7e7e7" stroke-width="1.6"/>
<line x1="1061.9" x2="1061.9" y1="372.9" y2="484.2" stroke="#e7e7e7" stroke-width="1.6"/>
<line x1="1093.6" x2="1093.6" y1="372.9" y2="484.2" stroke="#e7e7e7" stroke-width="1.6"/>
<line x1="1125.3" x2="1125.3" y1="372.9" y2="484.2" stroke="#e7e7e7" stroke-width="1.6"/>
<line x1="1157" x2="1157" y1="372.9" y2="484.2" stroke="#e7e7e7" stroke-width="1.6"/>
<rect x="1020.9" y="434.8" width="18.6" height="45.1" fill="#1e9a40" stroke="#000" stroke-width="2.8"/>
<rect x="1052.6" y="451.2" width="18.6" height="28.7" fill="#a6d96a" stroke="#000" stroke-width="2.8"/>
<rect x="1084.3" y="410.2" width="18.6" height="69.7" fill="#fdae61" stroke="#000" stroke-width="2.8"/>
<rect x="1116" y="426.6" width="18.6" height="53.3" fill="#f46d43" stroke="#000" stroke-width="2.8"/>
<rect x="1147.7" y="459.4" width="18.6" height="20.5" fill="#d7191c" stroke="#000" stroke-width="2.8"/>
<rect x="979.6" y="372.9" width="195.6" height="111.3" fill="none" stroke="#474747" stroke-width="1.6"/>
<rect x="1218.4" y="372.9" width="195.6" height="111.3" fill="#fff"/>
<line x1="1218.4" x2="1414" y1="469.65" y2="469.65" stroke="#ebebeb" stroke-width="1.2"/>
<line x1="1218.4" x2="1414" y1="449.15" y2="449.15" stroke="#ebebeb" stroke-width="1.2"/>
<line x1="1218.4" x2="1414" y1="428.65" y2="428.65" stroke="#ebebeb" stroke-width="1.2"/>
<line x1="1218.4" x2="1414" y1="408.15" y2="408.15" stroke="#ebebeb" stroke-width="1.2"/>
<line x1="1218.4" x2="1414" y1="387.65" y2="387.65" stroke="#ebebeb" stroke-width="1.2"/>
<line x1="1218.4" x2="1414" y1="479.9" y2="479.9" stroke="#e7e7e7" stroke-width="1.6"/>
<line x1="1218.4" x2="1414" y1="459.4" y2="459.4" stroke="#e7e7e7" stroke-width="1.6"/>
<line x1="1218.4" x2="1414" y1="438.9" y2="438.9" stroke="#e7e7e7" stroke-width="1.6"/>
<line x1="1218.4" x2="1414" y1="418.4" y2="418.4" stroke="#e7e7e7" stroke-width="1.6"/>
<line x1="1218.4" x2="1414" y1="397.9" y2="397.9" stroke="#e7e7e7" stroke-width="1.6"/>
<line x1="1218.4" x2="1414" y1="377.4" y2="377.4" stroke="#e7e7e7" stroke-width="1.6"/>
<line x1="1237.3" x2="1237.3" y1="372.9" y2="484.2" stroke="#e7e7e7" stroke-width="1.6"/>
<line x1="1269" x2="1269" y1="372.9" y2="484.2" stroke="#e7e7e7" stroke-width="1.6"/>
<line x1="1300.7" x2="1300.7" y1="372.9" y2="484.2" stroke="#e7e7e7" stroke-width="1.6"/>
<line x1="1332.4" x2="1332.4" y1="372.9" y2="484.2" stroke="#e7e7e7" stroke-width="1.6"/>
<line x1="1364.1" x2="1364.1" y1="372.9" y2="484.2" stroke="#e7e7e7" stroke-width="1.6"/>
<line x1="1395.8" x2="1395.8" y1="372.9" y2="484.2" stroke="#e7e7e7" stroke-width="1.6"/>
<rect x="1228" y="471.7" width="18.6" height="8.2" fill="#c4c4c4" stroke="#000" stroke-width="2.8"/>
<rect x="1259.7" y="389.7" width="18.6" height="90.2" fill="#1e9a40" stroke="#000" stroke-width="2.8"/>
<rect x="1291.4" y="438.9" width="18.6" height="41" fill="#a6d96a" stroke="#000" stroke-width="2.8"/>
<rect x="1323.1" y="385.6" width="18.6" height="94.3" fill="#fdae61" stroke="#000" stroke-width="2.8"/>
<rect x="1354.8" y="418.4" width="18.6" height="61.5" fill="#f46d43" stroke="#000" stroke-width="2.8"/>
<rect x="1386.5" y="455.3" width="18.6" height="24.6" fill="#d7191c" stroke="#000" stroke-width="2.8"/>
<rect x="1218.4" y="372.9" width="195.6" height="111.3" fill="none" stroke="#474747" stroke-width="1.6"/>
<rect x="214.3" y="372.9" width="49.2" height="111.3" fill="#e1e1e1" stroke="#474747" stroke-width="1.6"/>
<line x1="263.5" x2="263.5" y1="372.9" y2="484.2" stroke="#222" stroke-width="2.4"/>
<text x="247.1" y="429.55" font-size="25.4" fill="#1a1a1a" text-anchor="middle" transform="rotate(-90 247.1 429.55)">FIS</text>
<text x="198.8" y="488.7" font-size="24.4" fill="#4d4d4d" text-anchor="end">0</text>
<text x="198.8" y="468.2" font-size="24.4" fill="#4d4d4d" text-anchor="end">5</text>
<text x="198.8" y="447.7" font-size="24.4" fill="#4d4d4d" text-anchor="end">10</text>
<text x="198.8" y="427.2" font-size="24.4" fill="#4d4d4d" text-anchor="end">15</text>
<text x="198.8" y="406.7" font-size="24.4" fill="#4d4d4d" text-anchor="end">20</text>
<text x="198.8" y="386.2" font-size="24.4" fill="#4d4d4d" text-anchor="end">25</text>
<rect x="263.5" y="527.4" width="195.6" height="111.3" fill="#fff"/>
<line x1="263.5" x2="459.1" y1="624.15" y2="624.15" stroke="#ebebeb" stroke-width="1.2"/>
<line x1="263.5" x2="459.1" y1="603.65" y2="603.65" stroke="#ebebeb" stroke-width="1.2"/>
<line x1="263.5" x2="459.1" y1="583.15" y2="583.15" stroke="#ebebeb" stroke-width="1.2"/>
<line x1="263.5" x2="459.1" y1="562.65" y2="562.65" stroke="#ebebeb" stroke-width="1.2"/>
<line x1="263.5" x2="459.1" y1="542.15" y2="542.15" stroke="#ebebeb" stroke-width="1.2"/>
<line x1="263.5" x2="459.1" y1="634.4" y2="634.4" stroke="#e7e7e7" stroke-width="1.6"/>
<line x1="263.5" x2="459.1" y1="613.9" y2="613.9" stroke="#e7e7e7" stroke-width="1.6"/>
<line x1="263.5" x2="459.1" y1="593.4" y2="593.4" stroke="#e7e7e7" stroke-width="1.6"/>
<line x1="263.5" x2="459.1" y1="572.9" y2="572.9" stroke="#e7e7e7" stroke-width="1.6"/>
<line x1="263.5" x2="459.1" y1="552.4" y2="552.4" stroke="#e7e7e7" stroke-width="1.6"/>
<line x1="263.5" x2="459.1" y1="531.9" y2="531.9" stroke="#e7e7e7" stroke-width="1.6"/>
<line x1="282.4" x2="282.4" y1="527.4" y2="638.7" stroke="#e7e7e7" stroke-width="1.6"/>
<line x1="314.1" x2="314.1" y1="527.4" y2="638.7" stroke="#e7e7e7" stroke-width="1.6"/>
<line x1="345.8" x2="345.8" y1="527.4" y2="638.7" stroke="#e7e7e7" stroke-width="1.6"/>
<line x1="377.5" x2="377.5" y1="527.4" y2="638.7" stroke="#e7e7e7" stroke-width="1.6"/>
<line x1="409.2" x2="409.2" y1="527.4" y2="638.7" stroke="#e7e7e7" stroke-width="1.6"/>
<line x1="440.9" x2="440.9" y1="527.4" y2="638.7" stroke="#e7e7e7" stroke-width="1.6"/>
<rect x="368.2" y="630.3" width="18.6" height="4.1" fill="#fdae61" stroke="#000" stroke-width="2.8"/>
<rect x="399.9" y="626.2" width="18.6" height="8.2" fill="#f46d43" stroke="#000" stroke-width="2.8"/>
<rect x="263.5" y="527.4" width="195.6" height="111.3" fill="none" stroke="#474747" stroke-width="1.6"/>
<rect x="502.2" y="527.4" width="195.6" height="111.3" fill="#fff"/>
<line x1="502.2" x2="697.8" y1="624.15" y2="624.15" stroke="#ebebeb" stroke-width="1.2"/>
<line x1="502.2" x2="697.8" y1="603.65" y2="603.65" stroke="#ebebeb" stroke-width="1.2"/>
<line x1="502.2" x2="697.8" y1="583.15" y2="583.15" stroke="#ebebeb" stroke-width="1.2"/>
<line x1="502.2" x2="697.8" y1="562.65" y2="562.65" stroke="#ebebeb" stroke-width="1.2"/>
<line x1="502.2" x2="697.8" y1="542.15" y2="542.15" stroke="#ebebeb" stroke-width="1.2"/>
<line x1="502.2" x2="697.8" y1="634.4" y2="634.4" stroke="#e7e7e7" stroke-width="1.6"/>
<line x1="502.2" x2="697.8" y1="613.9" y2="613.9" stroke="#e7e7e7" stroke-width="1.6"/>
<line x1="502.2" x2="697.8" y1="593.4" y2="593.4" stroke="#e7e7e7" stroke-width="1.6"/>
<line x1="502.2" x2="697.8" y1="572.9" y2="572.9" stroke="#e7e7e7" stroke-width="1.6"/>
<line x1="502.2" x2="697.8" y1="552.4" y2="552.4" stroke="#e7e7e7" stroke-width="1.6"/>
<line x1="502.2" x2="697.8" y1="531.9" y2="531.9" stroke="#e7e7e7" stroke-width="1.6"/>
<line x1="521.1" x2="521.1" y1="527.4" y2="638.7" stroke="#e7e7e7" stroke-width="1.6"/>
<line x1="552.8" x2="552.8" y1="527.4" y2="638.7" stroke="#e7e7e7" stroke-width="1.6"/>
<line x1="584.5" x2="584.5" y1="527.4" y2="638.7" stroke="#e7e7e7" stroke-width="1.6"/>
<line x1="616.2" x2="616.2" y1="527.4" y2="638.7" stroke="#e7e7e7" stroke-width="1.6"/>
<line x1="647.9" x2="647.9" y1="527.4" y2="638.7" stroke="#e7e7e7" stroke-width="1.6"/>
<line x1="679.6" x2="679.6" y1="527.4" y2="638.7" stroke="#e7e7e7" stroke-width="1.6"/>
<rect x="606.9" y="626.2" width="18.6" height="8.2" fill="#fdae61" stroke="#000" stroke-width="2.8"/>
<rect x="638.6" y="626.2" width="18.6" height="8.2" fill="#f46d43" stroke="#000" stroke-width="2.8"/>
<rect x="502.2" y="527.4" width="195.6" height="111.3" fill="none" stroke="#474747" stroke-width="1.6"/>
<rect x="740.9" y="527.4" width="195.6" height="111.3" fill="#fff"/>
<line x1="740.9" x2="936.5" y1="624.15" y2="624.15" stroke="#ebebeb" stroke-width="1.2"/>
<line x1="740.9" x2="936.5" y1="603.65" y2="603.65" stroke="#ebebeb" stroke-width="1.2"/>
<line x1="740.9" x2="936.5" y1="583.15" y2="583.15" stroke="#ebebeb" stroke-width="1.2"/>
<line x1="740.9" x2="936.5" y1="562.65" y2="562.65" stroke="#ebebeb" stroke-width="1.2"/>
<line x1="740.9" x2="936.5" y1="542.15" y2="542.15" stroke="#ebebeb" stroke-width="1.2"/>
<line x1="740.9" x2="936.5" y1="634.4" y2="634.4" stroke="#e7e7e7" stroke-width="1.6"/>
<line x1="740.9" x2="936.5" y1="613.9" y2="613.9" stroke="#e7e7e7" stroke-width="1.6"/>
<line x1="740.9" x2="936.5" y1="593.4" y2="593.4" stroke="#e7e7e7" stroke-width="1.6"/>
<line x1="740.9" x2="936.5" y1="572.9" y2="572.9" stroke="#e7e7e7" stroke-width="1.6"/>
<line x1="740.9" x2="936.5" y1="552.4" y2="552.4" stroke="#e7e7e7" stroke-width="1.6"/>
<line x1="740.9" x2="936.5" y1="531.9" y2="531.9" stroke="#e7e7e7" stroke-width="1.6"/>
<line x1="759.8" x2="759.8" y1="527.4" y2="638.7" stroke="#e7e7e7" stroke-width="1.6"/>
<line x1="791.5" x2="791.5" y1="527.4" y2="638.7" stroke="#e7e7e7" stroke-width="1.6"/>
<line x1="823.2" x2="823.2" y1="527.4" y2="638.7" stroke="#e7e7e7" stroke-width="1.6"/>
<line x1="854.9" x2="854.9" y1="527.4" y2="638.7" stroke="#e7e7e7" stroke-width="1.6"/>
<line x1="886.6" x2="886.6" y1="527.4" y2="638.7" stroke="#e7e7e7" stroke-width="1.6"/>
<line x1="918.3" x2="918.3" y1="527.4" y2="638.7" stroke="#e7e7e7" stroke-width="1.6"/>
<rect x="845.6" y="626.2" width="18.6" height="8.2" fill="#fdae61" stroke="#000" stroke-width="2.8"/>
<rect x="877.3" y="622.1" width="18.6" height="12.3" fill="#f46d43" stroke="#000" stroke-width="2.8"/>
<rect x="909" y="626.2" width="18.6" height="8.2" fill="#d7191c" stroke="#000" stroke-width="2.8"/>
<rect x="740.9" y="527.4" width="195.6" height="111.3" fill="none" stroke="#474747" stroke-width="1.6"/>
<rect x="979.6" y="527.4" width="195.6" height="111.3" fill="#fff"/>
<line x1="979.6" x2="1175.2" y1="624.15" y2="624.15" stroke="#ebebeb" stroke-width="1.2"/>
<line x1="979.6" x2="1175.2" y1="603.65" y2="603.65" stroke="#ebebeb" stroke-width="1.2"/>
<line x1="979.6" x2="1175.2" y1="583.15" y2="583.15" stroke="#ebebeb" stroke-width="1.2"/>
<line x1="979.6" x2="1175.2" y1="562.65" y2="562.65" stroke="#ebebeb" stroke-width="1.2"/>
<line x1="979.6" x2="1175.2" y1="542.15" y2="542.15" stroke="#ebebeb" stroke-width="1.2"/>
<line x1="979.6" x2="1175.2" y1="634.4" y2="634.4" stroke="#e7e7e7" stroke-width="1.6"/>
<line x1="979.6" x2="1175.2" y1="613.9" y2="613.9" stroke="#e7e7e7" stroke-width="1.6"/>
<line x1="979.6" x2="1175.2" y1="593.4" y2="593.4" stroke="#e7e7e7" stroke-width="1.6"/>
<line x1="979.6" x2="1175.2" y1="572.9" y2="572.9" stroke="#e7e7e7" stroke-width="1.6"/>
<line x1="979.6" x2="1175.2" y1="552.4" y2="552.4" stroke="#e7e7e7" stroke-width="1.6"/>
<line x1="979.6" x2="1175.2" y1="531.9" y2="531.9" stroke="#e7e7e7" stroke-width="1.6"/>
<line x1="998.5" x2="998.5" y1="527.4" y2="638.7" stroke="#e7e7e7" stroke-width="1.6"/>
<line x1="1030.2" x2="1030.2" y1="527.4" y2="638.7" stroke="#e7e7e7" stroke-width="1.6"/>
<line x1="1061.9" x2="1061.9" y1="527.4" y2="638.7" stroke="#e7e7e7" stroke-width="1.6"/>
<line x1="1093.6" x2="1093.6" y1="527.4" y2="638.7" stroke="#e7e7e7" stroke-width="1.6"/>
<line x1="1125.3" x2="1125.3" y1="527.4" y2="638.7" stroke="#e7e7e7" stroke-width="1.6"/>
<line x1="1157" x2="1157" y1="527.4" y2="638.7" stroke="#e7e7e7" stroke-width="1.6"/>
<rect x="1084.3" y="609.8" width="18.6" height="24.6" fill="#fdae61" stroke="#000" stroke-width="2.8"/>
<rect x="1116" y="618" width="18.6" height="16.4" fill="#f46d43" stroke="#000" stroke-width="2.8"/>
<rect x="1147.7" y="630.3" width="18.6" height="4.1" fill="#d7191c" stroke="#000" stroke-width="2.8"/>
<rect x="979.6" y="527.4" width="195.6" height="111.3" fill="none" stroke="#474747" stroke-width="1.6"/>
<rect x="1218.4" y="527.4" width="195.6" height="111.3" fill="#fff"/>
<line x1="1218.4" x2="1414" y1="624.15" y2="624.15" stroke="#ebebeb" stroke-width="1.2"/>
<line x1="1218.4" x2="1414" y1="603.65" y2="603.65" stroke="#ebebeb" stroke-width="1.2"/>
<line x1="1218.4" x2="1414" y1="583.15" y2="583.15" stroke="#ebebeb" stroke-width="1.2"/>
<line x1="1218.4" x2="1414" y1="562.65" y2="562.65" stroke="#ebebeb" stroke-width="1.2"/>
<line x1="1218.4" x2="1414" y1="542.15" y2="542.15" stroke="#ebebeb" stroke-width="1.2"/>
<line x1="1218.4" x2="1414" y1="634.4" y2="634.4" stroke="#e7e7e7" stroke-width="1.6"/>
<line x1="1218.4" x2="1414" y1="613.9" y2="613.9" stroke="#e7e7e7" stroke-width="1.6"/>
<line x1="1218.4" x2="1414" y1="593.4" y2="593.4" stroke="#e7e7e7" stroke-width="1.6"/>
<line x1="1218.4" x2="1414" y1="572.9" y2="572.9" stroke="#e7e7e7" stroke-width="1.6"/>
<line x1="1218.4" x2="1414" y1="552.4" y2="552.4" stroke="#e7e7e7" stroke-width="1.6"/>
<line x1="1218.4" x2="1414" y1="531.9" y2="531.9" stroke="#e7e7e7" stroke-width="1.6"/>
<line x1="1237.3" x2="1237.3" y1="527.4" y2="638.7" stroke="#e7e7e7" stroke-width="1.6"/>
<line x1="1269" x2="1269" y1="527.4" y2="638.7" stroke="#e7e7e7" stroke-width="1.6"/>
<line x1="1300.7" x2="1300.7" y1="527.4" y2="638.7" stroke="#e7e7e7" stroke-width="1.6"/>
<line x1="1332.4" x2="1332.4" y1="527.4" y2="638.7" stroke="#e7e7e7" stroke-width="1.6"/>
<line x1="1364.1" x2="1364.1" y1="527.4" y2="638.7" stroke="#e7e7e7" stroke-width="1.6"/>
<line x1="1395.8" x2="1395.8" y1="527.4" y2="638.7" stroke="#e7e7e7" stroke-width="1.6"/>
<rect x="1323.1" y="609.8" width="18.6" height="24.6" fill="#fdae61" stroke="#000" stroke-width="2.8"/>
<rect x="1354.8" y="618" width="18.6" height="16.4" fill="#f46d43" stroke="#000" stroke-width="2.8"/>
<rect x="1386.5" y="626.2" width="18.6" height="8.2" fill="#d7191c" stroke="#000" stroke-width="2.8"/>
<rect x="1218.4" y="527.4" width="195.6" height="111.3" fill="none" stroke="#474747" stroke-width="1.6"/>
<rect x="214.3" y="527.4" width="49.2" height="111.3" fill="#e1e1e1" stroke="#474747" stroke-width="1.6"/>
<line x1="263.5" x2="263.5" y1="527.4" y2="638.7" stroke="#222" stroke-width="2.4"/>
<text x="247.1" y="584.05" font-size="25.4" fill="#1a1a1a" text-anchor="middle" transform="rotate(-90 247.1 584.05)">HAD</text>
<text x="198.8" y="643.2" font-size="24.4" fill="#4d4d4d" text-anchor="end">0</text>
<text x="198.8" y="622.7" font-size="24.4" fill="#4d4d4d" text-anchor="end">5</text>
<text x="198.8" y="602.2" font-size="24.4" fill="#4d4d4d" text-anchor="end">10</text>
<text x="198.8" y="581.7" font-size="24.4" fill="#4d4d4d" text-anchor="end">15</text>
<text x="198.8" y="561.2" font-size="24.4" fill="#4d4d4d" text-anchor="end">20</text>
<text x="198.8" y="540.7" font-size="24.4" fill="#4d4d4d" text-anchor="end">25</text>
<rect x="263.5" y="682" width="195.6" height="111.3" fill="#fff"/>
<line x1="263.5" x2="459.1" y1="778.75" y2="778.75" stroke="#ebebeb" stroke-width="1.2"/>
<line x1="263.5" x2="459.1" y1="758.25" y2="758.25" stroke="#ebebeb" stroke-width="1.2"/>
<line x1="263.5" x2="459.1" y1="737.75" y2="737.75" stroke="#ebebeb" stroke-width="1.2"/>
<line x1="263.5" x2="459.1" y1="717.25" y2="717.25" stroke="#ebebeb" stroke-width="1.2"/>
<line x1="263.5" x2="459.1" y1="696.75" y2="696.75" stroke="#ebebeb" stroke-width="1.2"/>
<line x1="263.5" x2="459.1" y1="789" y2="789" stroke="#e7e7e7" stroke-width="1.6"/>
<line x1="263.5" x2="459.1" y1="768.5" y2="768.5" stroke="#e7e7e7" stroke-width="1.6"/>
<line x1="263.5" x2="459.1" y1="748" y2="748" stroke="#e7e7e7" stroke-width="1.6"/>
<line x1="263.5" x2="459.1" y1="727.5" y2="727.5" stroke="#e7e7e7" stroke-width="1.6"/>
<line x1="263.5" x2="459.1" y1="707" y2="707" stroke="#e7e7e7" stroke-width="1.6"/>
<line x1="263.5" x2="459.1" y1="686.5" y2="686.5" stroke="#e7e7e7" stroke-width="1.6"/>
<line x1="282.4" x2="282.4" y1="682" y2="793.3" stroke="#e7e7e7" stroke-width="1.6"/>
<line x1="314.1" x2="314.1" y1="682" y2="793.3" stroke="#e7e7e7" stroke-width="1.6"/>
<line x1="345.8" x2="345.8" y1="682" y2="793.3" stroke="#e7e7e7" stroke-width="1.6"/>
<line x1="377.5" x2="377.5" y1="682" y2="793.3" stroke="#e7e7e7" stroke-width="1.6"/>
<line x1="409.2" x2="409.2" y1="682" y2="793.3" stroke="#e7e7e7" stroke-width="1.6"/>
<line x1="440.9" x2="440.9" y1="682" y2="793.3" stroke="#e7e7e7" stroke-width="1.6"/>
<rect x="263.5" y="682" width="195.6" height="111.3" fill="none" stroke="#474747" stroke-width="1.6"/>
<rect x="502.2" y="682" width="195.6" height="111.3" fill="#fff"/>
<line x1="502.2" x2="697.8" y1="778.75" y2="778.75" stroke="#ebebeb" stroke-width="1.2"/>
<line x1="502.2" x2="697.8" y1="758.25" y2="758.25" stroke="#ebebeb" stroke-width="1.2"/>
<line x1="502.2" x2="697.8" y1="737.75" y2="737.75" stroke="#ebebeb" stroke-width="1.2"/>
<line x1="502.2" x2="697.8" y1="717.25" y2="717.25" stroke="#ebebeb" stroke-width="1.2"/>
<line x1="502.2" x2="697.8" y1="696.75" y2="696.75" stroke="#ebebeb" stroke-width="1.2"/>
<line x1="502.2" x2="697.8" y1="789" y2="789" stroke="#e7e7e7" stroke-width="1.6"/>
<line x1="502.2" x2="697.8" y1="768.5" y2="768.5" stroke="#e7e7e7" stroke-width="1.6"/>
<line x1="502.2" x2="697.8" y1="748" y2="748" stroke="#e7e7e7" stroke-width="1.6"/>
<line x1="502.2" x2="697.8" y1="727.5" y2="727.5" stroke="#e7e7e7" stroke-width="1.6"/>
<line x1="502.2" x2="697.8" y1="707" y2="707" stroke="#e7e7e7" stroke-width="1.6"/>
<line x1="502.2" x2="697.8" y1="686.5" y2="686.5" stroke="#e7e7e7" stroke-width="1.6"/>
<line x1="521.1" x2="521.1" y1="682" y2="793.3" stroke="#e7e7e7" stroke-width="1.6"/>
<line x1="552.8" x2="552.8" y1="682" y2="793.3" stroke="#e7e7e7" stroke-width="1.6"/>
<line x1="584.5" x2="584.5" y1="682" y2="793.3" stroke="#e7e7e7" stroke-width="1.6"/>
<line x1="616.2" x2="616.2" y1="682" y2="793.3" stroke="#e7e7e7" stroke-width="1.6"/>
<line x1="647.9" x2="647.9" y1="682" y2="793.3" stroke="#e7e7e7" stroke-width="1.6"/>
<line x1="679.6" x2="679.6" y1="682" y2="793.3" stroke="#e7e7e7" stroke-width="1.6"/>
<rect x="502.2" y="682" width="195.6" height="111.3" fill="none" stroke="#474747" stroke-width="1.6"/>
<rect x="740.9" y="682" width="195.6" height="111.3" fill="#fff"/>
<line x1="740.9" x2="936.5" y1="778.75" y2="778.75" stroke="#ebebeb" stroke-width="1.2"/>
<line x1="740.9" x2="936.5" y1="758.25" y2="758.25" stroke="#ebebeb" stroke-width="1.2"/>
<line x1="740.9" x2="936.5" y1="737.75" y2="737.75" stroke="#ebebeb" stroke-width="1.2"/>
<line x1="740.9" x2="936.5" y1="717.25" y2="717.25" stroke="#ebebeb" stroke-width="1.2"/>
<line x1="740.9" x2="936.5" y1="696.75" y2="696.75" stroke="#ebebeb" stroke-width="1.2"/>
<line x1="740.9" x2="936.5" y1="789" y2="789" stroke="#e7e7e7" stroke-width="1.6"/>
<line x1="740.9" x2="936.5" y1="768.5" y2="768.5" stroke="#e7e7e7" stroke-width="1.6"/>
<line x1="740.9" x2="936.5" y1="748" y2="748" stroke="#e7e7e7" stroke-width="1.6"/>
<line x1="740.9" x2="936.5" y1="727.5" y2="727.5" stroke="#e7e7e7" stroke-width="1.6"/>
<line x1="740.9" x2="936.5" y1="707" y2="707" stroke="#e7e7e7" stroke-width="1.6"/>
<line x1="740.9" x2="936.5" y1="686.5" y2="686.5" stroke="#e7e7e7" stroke-width="1.6"/>
<line x1="759.8" x2="759.8" y1="682" y2="793.3" stroke="#e7e7e7" stroke-width="1.6"/>
<line x1="791.5" x2="791.5" y1="682" y2="793.3" stroke="#e7e7e7" stroke-width="1.6"/>
<line x1="823.2" x2="823.2" y1="682" y2="793.3" stroke="#e7e7e7" stroke-width="1.6"/>
<line x1="854.9" x2="854.9" y1="682" y2="793.3" stroke="#e7e7e7" stroke-width="1.6"/>
<line x1="886.6" x2="886.6" y1="682" y2="793.3" stroke="#e7e7e7" stroke-width="1.6"/>
<line x1="918.3" x2="918.3" y1="682" y2="793.3" stroke="#e7e7e7" stroke-width="1.6"/>
<rect x="845.6" y="784.9" width="18.6" height="4.1" fill="#fdae61" stroke="#000" stroke-width="2.8"/>
<rect x="740.9" y="682" width="195.6" height="111.3" fill="none" stroke="#474747" stroke-width="1.6"/>
<rect x="979.6" y="682" width="195.6" height="111.3" fill="#fff"/>
<line x1="979.6" x2="1175.2" y1="778.75" y2="778.75" stroke="#ebebeb" stroke-width="1.2"/>
<line x1="979.6" x2="1175.2" y1="758.25" y2="758.25" stroke="#ebebeb" stroke-width="1.2"/>
<line x1="979.6" x2="1175.2" y1="737.75" y2="737.75" stroke="#ebebeb" stroke-width="1.2"/>
<line x1="979.6" x2="1175.2" y1="717.25" y2="717.25" stroke="#ebebeb" stroke-width="1.2"/>
<line x1="979.6" x2="1175.2" y1="696.75" y2="696.75" stroke="#ebebeb" stroke-width="1.2"/>
<line x1="979.6" x2="1175.2" y1="789" y2="789" stroke="#e7e7e7" stroke-width="1.6"/>
<line x1="979.6" x2="1175.2" y1="768.5" y2="768.5" stroke="#e7e7e7" stroke-width="1.6"/>
<line x1="979.6" x2="1175.2" y1="748" y2="748" stroke="#e7e7e7" stroke-width="1.6"/>
<line x1="979.6" x2="1175.2" y1="727.5" y2="727.5" stroke="#e7e7e7" stroke-width="1.6"/>
<line x1="979.6" x2="1175.2" y1="707" y2="707" stroke="#e7e7e7" stroke-width="1.6"/>
<line x1="979.6" x2="1175.2" y1="686.5" y2="686.5" stroke="#e7e7e7" stroke-width="1.6"/>
<line x1="998.5" x2="998.5" y1="682" y2="793.3" stroke="#e7e7e7" stroke-width="1.6"/>
<line x1="1030.2" x2="1030.2" y1="682" y2="793.3" stroke="#e7e7e7" stroke-width="1.6"/>
<line x1="1061.9" x2="1061.9" y1="682" y2="793.3" stroke="#e7e7e7" stroke-width="1.6"/>
<line x1="1093.6" x2="1093.6" y1="682" y2="793.3" stroke="#e7e7e7" stroke-width="1.6"/>
<line x1="1125.3" x2="1125.3" y1="682" y2="793.3" stroke="#e7e7e7" stroke-width="1.6"/>
<line x1="1157" x2="1157" y1="682" y2="793.3" stroke="#e7e7e7" stroke-width="1.6"/>
<rect x="1084.3" y="784.9" width="18.6" height="4.1" fill="#fdae61" stroke="#000" stroke-width="2.8"/>
<rect x="979.6" y="682" width="195.6" height="111.3" fill="none" stroke="#474747" stroke-width="1.6"/>
<rect x="1218.4" y="682" width="195.6" height="111.3" fill="#fff"/>
<line x1="1218.4" x2="1414" y1="778.75" y2="778.75" stroke="#ebebeb" stroke-width="1.2"/>
<line x1="1218.4" x2="1414" y1="758.25" y2="758.25" stroke="#ebebeb" stroke-width="1.2"/>
<line x1="1218.4" x2="1414" y1="737.75" y2="737.75" stroke="#ebebeb" stroke-width="1.2"/>
<line x1="1218.4" x2="1414" y1="717.25" y2="717.25" stroke="#ebebeb" stroke-width="1.2"/>
<line x1="1218.4" x2="1414" y1="696.75" y2="696.75" stroke="#ebebeb" stroke-width="1.2"/>
<line x1="1218.4" x2="1414" y1="789" y2="789" stroke="#e7e7e7" stroke-width="1.6"/>
<line x1="1218.4" x2="1414" y1="768.5" y2="768.5" stroke="#e7e7e7" stroke-width="1.6"/>
<line x1="1218.4" x2="1414" y1="748" y2="748" stroke="#e7e7e7" stroke-width="1.6"/>
<line x1="1218.4" x2="1414" y1="727.5" y2="727.5" stroke="#e7e7e7" stroke-width="1.6"/>
<line x1="1218.4" x2="1414" y1="707" y2="707" stroke="#e7e7e7" stroke-width="1.6"/>
<line x1="1218.4" x2="1414" y1="686.5" y2="686.5" stroke="#e7e7e7" stroke-width="1.6"/>
<line x1="1237.3" x2="1237.3" y1="682" y2="793.3" stroke="#e7e7e7" stroke-width="1.6"/>
<line x1="1269" x2="1269" y1="682" y2="793.3" stroke="#e7e7e7" stroke-width="1.6"/>
<line x1="1300.7" x2="1300.7" y1="682" y2="793.3" stroke="#e7e7e7" stroke-width="1.6"/>
<line x1="1332.4" x2="1332.4" y1="682" y2="793.3" stroke="#e7e7e7" stroke-width="1.6"/>
<line x1="1364.1" x2="1364.1" y1="682" y2="793.3" stroke="#e7e7e7" stroke-width="1.6"/>
<line x1="1395.8" x2="1395.8" y1="682" y2="793.3" stroke="#e7e7e7" stroke-width="1.6"/>
<rect x="1323.1" y="784.9" width="18.6" height="4.1" fill="#fdae61" stroke="#000" stroke-width="2.8"/>
<rect x="1218.4" y="682" width="195.6" height="111.3" fill="none" stroke="#474747" stroke-width="1.6"/>
<rect x="214.3" y="682" width="49.2" height="111.3" fill="#e1e1e1" stroke="#474747" stroke-width="1.6"/>
<line x1="263.5" x2="263.5" y1="682" y2="793.3" stroke="#222" stroke-width="2.4"/>
<text x="247.1" y="738.65" font-size="25.4" fill="#1a1a1a" text-anchor="middle" transform="rotate(-90 247.1 738.65)">POL</text>
<text x="198.8" y="797.8" font-size="24.4" fill="#4d4d4d" text-anchor="end">0</text>
<text x="198.8" y="777.3" font-size="24.4" fill="#4d4d4d" text-anchor="end">5</text>
<text x="198.8" y="756.8" font-size="24.4" fill="#4d4d4d" text-anchor="end">10</text>
<text x="198.8" y="736.3" font-size="24.4" fill="#4d4d4d" text-anchor="end">15</text>
<text x="198.8" y="715.8" font-size="24.4" fill="#4d4d4d" text-anchor="end">20</text>
<text x="198.8" y="695.3" font-size="24.4" fill="#4d4d4d" text-anchor="end">25</text>
<rect x="263.5" y="15.6" width="195.6" height="48.1" fill="#e1e1e1" stroke="#474747" stroke-width="1.6"/>
<line x1="263.5" x2="459.1" y1="63.7" y2="63.7" stroke="#333" stroke-width="2.2"/>
<text x="361.3" y="48.3" font-size="24.9" fill="#1a1a1a" text-anchor="middle" transform="translate(0 48.3) scale(1 1.04) translate(0 -48.3)">AZO</text>
<rect x="502.2" y="15.6" width="195.6" height="48.1" fill="#e1e1e1" stroke="#474747" stroke-width="1.6"/>
<line x1="502.2" x2="697.8" y1="63.7" y2="63.7" stroke="#333" stroke-width="2.2"/>
<text x="600" y="48.3" font-size="24.9" fill="#1a1a1a" text-anchor="middle" transform="translate(0 48.3) scale(1 1.04) translate(0 -48.3)">MAD</text>
<rect x="740.9" y="15.6" width="195.6" height="48.1" fill="#e1e1e1" stroke="#474747" stroke-width="1.6"/>
<line x1="740.9" x2="936.5" y1="63.7" y2="63.7" stroke="#333" stroke-width="2.2"/>
<text x="838.7" y="48.3" font-size="24.9" fill="#1a1a1a" text-anchor="middle" transform="translate(0 48.3) scale(1 1.04) translate(0 -48.3)">CAN</text>
<rect x="979.6" y="15.6" width="195.6" height="48.1" fill="#e1e1e1" stroke="#474747" stroke-width="1.6"/>
<line x1="979.6" x2="1175.2" y1="63.7" y2="63.7" stroke="#333" stroke-width="2.2"/>
<text x="1077.4" y="48.3" font-size="24.9" fill="#1a1a1a" text-anchor="middle" transform="translate(0 48.3) scale(1 1.04) translate(0 -48.3)">CV</text>
<rect x="1218.4" y="15.6" width="195.6" height="48.1" fill="#e1e1e1" stroke="#474747" stroke-width="1.6"/>
<line x1="1218.4" x2="1414" y1="63.7" y2="63.7" stroke="#333" stroke-width="2.2"/>
<text x="1316.2" y="48.3" font-size="24.9" fill="#1a1a1a" text-anchor="middle" transform="translate(0 48.3) scale(1 1.04) translate(0 -48.3)">ALL</text>
<g transform="translate(282.4 809.3) rotate(-45)"><text x="0" y="17" font-size="25" fill="#4d4d4d" text-anchor="end">DD/NE</text></g>
<g transform="translate(314.1 809.3) rotate(-45)"><text x="0" y="17" font-size="25" fill="#4d4d4d" text-anchor="end">LC</text></g>
<g transform="translate(345.8 809.3) rotate(-45)"><text x="0" y="17" font-size="25" fill="#4d4d4d" text-anchor="end">NT</text></g>
<g transform="translate(377.5 809.3) rotate(-45)"><text x="0" y="17" font-size="25" fill="#4d4d4d" text-anchor="end">VU</text></g>
<g transform="translate(409.2 809.3) rotate(-45)"><text x="0" y="17" font-size="25" fill="#4d4d4d" text-anchor="end">EN</text></g>
<g transform="translate(440.9 809.3) rotate(-45)"><text x="0" y="17" font-size="25" fill="#4d4d4d" text-anchor="end">CE</text></g>
<g transform="translate(521.1 809.3) rotate(-45)"><text x="0" y="17" font-size="25" fill="#4d4d4d" text-anchor="end">DD/NE</text></g>
<g transform="translate(552.8 809.3) rotate(-45)"><text x="0" y="17" font-size="25" fill="#4d4d4d" text-anchor="end">LC</text></g>
<g transform="translate(584.5 809.3) rotate(-45)"><text x="0" y="17" font-size="25" fill="#4d4d4d" text-anchor="end">NT</text></g>
<g transform="translate(616.2 809.3) rotate(-45)"><text x="0" y="17" font-size="25" fill="#4d4d4d" text-anchor="end">VU</text></g>
<g transform="translate(647.9 809.3) rotate(-45)"><text x="0" y="17" font-size="25" fill="#4d4d4d" text-anchor="end">EN</text></g>
<g transform="translate(679.6 809.3) rotate(-45)"><text x="0" y="17" font-size="25" fill="#4d4d4d" text-anchor="end">CE</text></g>
<g transform="translate(759.8 809.3) rotate(-45)"><text x="0" y="17" font-size="25" fill="#4d4d4d" text-anchor="end">DD/NE</text></g>
<g transform="translate(791.5 809.3) rotate(-45)"><text x="0" y="17" font-size="25" fill="#4d4d4d" text-anchor="end">LC</text></g>
<g transform="translate(823.2 809.3) rotate(-45)"><text x="0" y="17" font-size="25" fill="#4d4d4d" text-anchor="end">NT</text></g>
<g transform="translate(854.9 809.3) rotate(-45)"><text x="0" y="17" font-size="25" fill="#4d4d4d" text-anchor="end">VU</text></g>
<g transform="translate(886.6 809.3) rotate(-45)"><text x="0" y="17" font-size="25" fill="#4d4d4d" text-anchor="end">EN</text></g>
<g transform="translate(918.3 809.3) rotate(-45)"><text x="0" y="17" font-size="25" fill="#4d4d4d" text-anchor="end">CE</text></g>
<g transform="translate(998.5 809.3) rotate(-45)"><text x="0" y="17" font-size="25" fill="#4d4d4d" text-anchor="end">DD/NE</text></g>
<g transform="translate(1030.2 809.3) rotate(-45)"><text x="0" y="17" font-size="25" fill="#4d4d4d" text-anchor="end">LC</text></g>
<g transform="translate(1061.9 809.3) rotate(-45)"><text x="0" y="17" font-size="25" fill="#4d4d4d" text-anchor="end">NT</text></g>
<g transform="translate(1093.6 809.3) rotate(-45)"><text x="0" y="17" font-size="25" fill="#4d4d4d" text-anchor="end">VU</text></g>
<g transform="translate(1125.3 809.3) rotate(-45)"><text x="0" y="17" font-size="25" fill="#4d4d4d" text-anchor="end">EN</text></g>
<g transform="translate(1157 809.3) rotate(-45)"><text x="0" y="17" font-size="25" fill="#4d4d4d" text-anchor="end">CE</text></g>
<g transform="translate(1237.3 809.3) rotate(-45)"><text x="0" y="17" font-size="25" fill="#4d4d4d" text-anchor="end">DD/NE</text></g>
<g transform="translate(1269 809.3) rotate(-45)"><text x="0" y="17" font-size="25" fill="#4d4d4d" text-anchor="end">LC</text></g>
<g transform="translate(1300.7 809.3) rotate(-45)"><text x="0" y="17" font-size="25" fill="#4d4d4d" text-anchor="end">NT</text></g>
<g transform="translate(1332.4 809.3) rotate(-45)"><text x="0" y="17" font-size="25" fill="#4d4d4d" text-anchor="end">VU</text></g>
<g transform="translate(1364.1 809.3) rotate(-45)"><text x="0" y="17" font-size="25" fill="#4d4d4d" text-anchor="end">EN</text></g>
<g transform="translate(1395.8 809.3) rotate(-45)"><text x="0" y="17" font-size="25" fill="#4d4d4d" text-anchor="end">CE</text></g>
<text x="157.8" y="429.3" font-size="31.9" fill="#1a1a1a" text-anchor="middle" transform="rotate(-90 157.8 429.3)">Number of Records</text>
<text x="15" y="419.8" font-size="40" fill="#000" style="font-family:'Liberation Serif', serif" transform="translate(0 419.8) scale(1 1.07) translate(0 -419.8)">A</text>
<line x1="168.5" x2="1092.8" y1="1434.75" y2="1434.75" stroke="#eeeeee" stroke-width="1"/>
<line x1="168.5" x2="1092.8" y1="1341.05" y2="1341.05" stroke="#eeeeee" stroke-width="1"/>
<line x1="168.5" x2="1092.8" y1="1247.35" y2="1247.35" stroke="#eeeeee" stroke-width="1"/>
<line x1="168.5" x2="1092.8" y1="1153.65" y2="1153.65" stroke="#eeeeee" stroke-width="1"/>
<line x1="168.5" x2="1092.8" y1="1059.95" y2="1059.95" stroke="#eeeeee" stroke-width="1"/>
<line x1="168.5" x2="1092.8" y1="966.25" y2="966.25" stroke="#eeeeee" stroke-width="1"/>
<line x1="168.5" x2="1092.8" y1="1481.6" y2="1481.6" stroke="#ebebeb" stroke-width="1.3"/>
<line x1="168.5" x2="1092.8" y1="1387.9" y2="1387.9" stroke="#ebebeb" stroke-width="1.3"/>
<line x1="168.5" x2="1092.8" y1="1294.2" y2="1294.2" stroke="#ebebeb" stroke-width="1.3"/>
<line x1="168.5" x2="1092.8" y1="1200.5" y2="1200.5" stroke="#ebebeb" stroke-width="1.3"/>
<line x1="168.5" x2="1092.8" y1="1106.8" y2="1106.8" stroke="#ebebeb" stroke-width="1.3"/>
<line x1="168.5" x2="1092.8" y1="1013.1" y2="1013.1" stroke="#ebebeb" stroke-width="1.3"/>
<line x1="168.5" x2="1092.8" y1="919.4" y2="919.4" stroke="#ebebeb" stroke-width="1.3"/>
<line x1="303.4" x2="303.4" y1="908" y2="1508" stroke="#ebebeb" stroke-width="1.3"/>
<line x1="521.3" x2="521.3" y1="908" y2="1508" stroke="#ebebeb" stroke-width="1.3"/>
<line x1="741.1" x2="741.1" y1="908" y2="1508" stroke="#ebebeb" stroke-width="1.3"/>
<line x1="961.3" x2="961.3" y1="908" y2="1508" stroke="#ebebeb" stroke-width="1.3"/>
<rect x="235.56" y="1219.24" width="131.88" height="262.36" fill="#ff0000"/>
<rect x="235.56" y="1097.43" width="131.88" height="121.81" fill="#ffa500"/>
<rect x="235.56" y="1069.32" width="131.88" height="28.11" fill="#0000ff"/>
<rect x="235.56" y="1059.95" width="131.88" height="9.37" fill="#00ff00"/>
<rect x="455.36" y="1181.76" width="131.88" height="299.84" fill="#ff0000"/>
<rect x="455.36" y="1031.84" width="131.88" height="149.92" fill="#ffa500"/>
<rect x="455.36" y="1003.73" width="131.88" height="28.11" fill="#0000ff"/>
<rect x="455.36" y="994.36" width="131.88" height="9.37" fill="#00ff00"/>
<rect x="675.16" y="1163.02" width="131.88" height="318.58" fill="#ff0000"/>
<rect x="675.16" y="994.36" width="131.88" height="168.66" fill="#ffa500"/>
<rect x="675.16" y="966.25" width="131.88" height="28.11" fill="#0000ff"/>
<rect x="675.16" y="956.88" width="131.88" height="9.37" fill="#00ff00"/>
<rect x="894.96" y="1172.39" width="131.88" height="309.21" fill="#ff0000"/>
<rect x="894.96" y="1031.84" width="131.88" height="140.55" fill="#ffa500"/>
<rect x="894.96" y="1003.73" width="131.88" height="28.11" fill="#0000ff"/>
<rect x="894.96" y="984.99" width="131.88" height="18.74" fill="#00ff00"/>
<text x="155.9" y="1492" font-size="25" fill="#4d4d4d" text-anchor="end" textLength="13.4" lengthAdjust="spacingAndGlyphs">0</text>
<text x="155.9" y="1398.3" font-size="25" fill="#4d4d4d" text-anchor="end" textLength="26.1" lengthAdjust="spacingAndGlyphs">10</text>
<text x="155.9" y="1304.6" font-size="25" fill="#4d4d4d" text-anchor="end" textLength="26.1" lengthAdjust="spacingAndGlyphs">20</text>
<text x="155.9" y="1210.9" font-size="25" fill="#4d4d4d" text-anchor="end" textLength="26.1" lengthAdjust="spacingAndGlyphs">30</text>
<text x="155.9" y="1117.2" font-size="25" fill="#4d4d4d" text-anchor="end" textLength="26.1" lengthAdjust="spacingAndGlyphs">40</text>
<text x="155.9" y="1023.5" font-size="25" fill="#4d4d4d" text-anchor="end" textLength="26.1" lengthAdjust="spacingAndGlyphs">50</text>
<text x="155.9" y="929.8" font-size="25" fill="#4d4d4d" text-anchor="end" textLength="26.1" lengthAdjust="spacingAndGlyphs">60</text>
<g transform="translate(306.5 1525) rotate(-45)"><text x="0" y="17" font-size="24" fill="#4d4d4d" text-anchor="end">AZO</text></g>
<g transform="translate(526.3 1525) rotate(-45)"><text x="0" y="17" font-size="24" fill="#4d4d4d" text-anchor="end">MAD</text></g>
<g transform="translate(746.1 1525) rotate(-45)"><text x="0" y="17" font-size="24" fill="#4d4d4d" text-anchor="end">CAN</text></g>
<g transform="translate(965.9 1525) rotate(-45)"><text x="0" y="17" font-size="24" fill="#4d4d4d" text-anchor="end">CV</text></g>
<text x="632" y="1609.8" font-size="29.6" fill="#000" text-anchor="middle">Region</text>
<text x="117.6" y="1200.2" font-size="29.6" fill="#000" text-anchor="middle" transform="rotate(-90 117.6 1200.2)">Species Count</text>
<text x="14.6" y="1208.6" font-size="40.5" fill="#000" style="font-family:'Liberation Serif', serif">B</text>
<text x="1136.3" y="1120.5" font-size="28.8" fill="#000" textLength="256.5" lengthAdjust="spacingAndGlyphs">Fishing Vulnerability</text>
<rect x="1138.6" y="1137.9" width="38.0" height="38.6" fill="#00ff00"/>
<text x="1193.3" y="1170.3" font-size="24.6" fill="#000" textLength="118" lengthAdjust="spacingAndGlyphs">Low (0–30)</text>
<rect x="1138.6" y="1181.1" width="38.0" height="38.6" fill="#0000ff"/>
<text x="1193.3" y="1213.5" font-size="24.6" fill="#000" textLength="187.5" lengthAdjust="spacingAndGlyphs">Moderate (30–50)</text>
<rect x="1138.6" y="1224.3" width="38.0" height="38.6" fill="#ffa500"/>
<text x="1193.3" y="1256.7" font-size="24.6" fill="#000" textLength="137.2" lengthAdjust="spacingAndGlyphs">High (50–70)</text>
<rect x="1138.6" y="1267.5" width="38.0" height="38.6" fill="#ff0000"/>
<text x="1193.3" y="1299.9" font-size="24.6" fill="#000" textLength="207" lengthAdjust="spacingAndGlyphs">Very High (70–100)</text>
<line x1="197.7" x2="1032.5" y1="2277" y2="2277" stroke="#ededed" stroke-width="1.6"/>
<line x1="197.7" x2="1032.5" y1="2027" y2="2027" stroke="#ededed" stroke-width="1.6"/>
<line x1="197.7" x2="1032.5" y1="1777" y2="1777" stroke="#ededed" stroke-width="1.6"/>
<line x1="197.7" x2="1032.5" y1="2402" y2="2402" stroke="#ebebeb" stroke-width="2.2"/>
<line x1="197.7" x2="1032.5" y1="2152" y2="2152" stroke="#ebebeb" stroke-width="2.2"/>
<line x1="197.7" x2="1032.5" y1="1902" y2="1902" stroke="#ebebeb" stroke-width="2.2"/>
<line x1="197.7" x2="1032.5" y1="1652" y2="1652" stroke="#ebebeb" stroke-width="2.2"/>
<line x1="316.96" x2="316.96" y1="1652" y2="2402" stroke="#ebebeb" stroke-width="2.2"/>
<line x1="515.72" x2="515.72" y1="1652" y2="2402" stroke="#ebebeb" stroke-width="2.2"/>
<line x1="714.48" x2="714.48" y1="1652" y2="2402" stroke="#ebebeb" stroke-width="2.2"/>
<line x1="913.24" x2="913.24" y1="1652" y2="2402" stroke="#ebebeb" stroke-width="2.2"/>
<rect x="251.37" y="2377" width="19.88" height="25" fill="#ff0000"/>
<text x="261.3" y="2367.4" font-size="27" fill="#000" text-anchor="middle">1</text>
<rect x="279.19" y="2202" width="19.88" height="200" fill="#ff6347"/>
<text x="289.13" y="2192.4" font-size="27" fill="#000" text-anchor="middle">8</text>
<rect x="307.02" y="2027" width="19.88" height="375" fill="#0000ff"/>
<text x="316.96" y="2017.4" font-size="27" fill="#000" text-anchor="middle">15</text>
<rect x="334.85" y="1952" width="19.88" height="450" fill="#32cd32"/>
<text x="344.78" y="1942.4" font-size="27" fill="#000" text-anchor="middle">18</text>
<rect x="362.67" y="2327" width="19.88" height="75" fill="#006400"/>
<text x="372.61" y="2317.4" font-size="27" fill="#000" text-anchor="middle">3</text>
<rect x="450.13" y="2377" width="19.88" height="25" fill="#ff0000"/>
<text x="460.07" y="2367.4" font-size="27" fill="#000" text-anchor="middle">1</text>
<rect x="477.95" y="2152" width="19.88" height="250" fill="#ff6347"/>
<text x="487.89" y="2142.4" font-size="27" fill="#000" text-anchor="middle">10</text>
<rect x="505.78" y="1902" width="19.88" height="500" fill="#0000ff"/>
<text x="515.72" y="1892.4" font-size="27" fill="#000" text-anchor="middle">20</text>
<rect x="533.61" y="1952" width="19.88" height="450" fill="#32cd32"/>
<text x="543.55" y="1942.4" font-size="27" fill="#000" text-anchor="middle">18</text>
<rect x="561.43" y="2327" width="19.88" height="75" fill="#006400"/>
<text x="571.37" y="2317.4" font-size="27" fill="#000" text-anchor="middle">3</text>
<rect x="648.89" y="2377" width="19.88" height="25" fill="#ff0000"/>
<text x="658.83" y="2367.4" font-size="27" fill="#000" text-anchor="middle">1</text>
<rect x="676.72" y="2077" width="19.88" height="325" fill="#ff6347"/>
<text x="686.65" y="2067.4" font-size="27" fill="#000" text-anchor="middle">13</text>
<rect x="704.54" y="1802" width="19.88" height="600" fill="#0000ff"/>
<text x="714.48" y="1792.4" font-size="27" fill="#000" text-anchor="middle">24</text>
<rect x="732.37" y="2027" width="19.88" height="375" fill="#32cd32"/>
<text x="742.31" y="2017.4" font-size="27" fill="#000" text-anchor="middle">15</text>
<rect x="760.2" y="2327" width="19.88" height="75" fill="#006400"/>
<text x="770.13" y="2317.4" font-size="27" fill="#000" text-anchor="middle">3</text>
<rect x="847.65" y="2377" width="19.88" height="25" fill="#ff0000"/>
<text x="857.59" y="2367.4" font-size="27" fill="#000" text-anchor="middle">1</text>
<rect x="875.48" y="2002" width="19.88" height="400" fill="#ff6347"/>
<text x="885.42" y="1992.4" font-size="27" fill="#000" text-anchor="middle">16</text>
<rect x="903.3" y="1827" width="19.88" height="575" fill="#0000ff"/>
<text x="913.24" y="1817.4" font-size="27" fill="#000" text-anchor="middle">23</text>
<rect x="931.13" y="2152" width="19.88" height="250" fill="#32cd32"/>
<text x="941.07" y="2142.4" font-size="27" fill="#000" text-anchor="middle">10</text>
<rect x="958.96" y="2327" width="19.88" height="75" fill="#006400"/>
<text x="968.9" y="2317.4" font-size="27" fill="#000" text-anchor="middle">3</text>
<text x="179" y="2413" font-size="30.6" fill="#4d4d4d" text-anchor="end">0</text>
<text x="179" y="2163" font-size="30.6" fill="#4d4d4d" text-anchor="end">10</text>
<text x="179" y="1913" font-size="30.6" fill="#4d4d4d" text-anchor="end">20</text>
<text x="179" y="1663" font-size="30.6" fill="#4d4d4d" text-anchor="end">30</text>
<text x="316.96" y="2443.6" font-size="30.2" fill="#4d4d4d" text-anchor="middle">AZO</text>
<text x="515.72" y="2443.6" font-size="30.2" fill="#4d4d4d" text-anchor="middle">MAD</text>
<text x="714.48" y="2443.6" font-size="30.2" fill="#4d4d4d" text-anchor="middle">CAN</text>
<text x="913.24" y="2443.6" font-size="30.2" fill="#4d4d4d" text-anchor="middle">CV</text>
<text x="615.3" y="2488.6" font-size="39.3" fill="#000" text-anchor="middle">Region</text>
<text x="127.6" y="2026.3" font-size="39.3" fill="#000" text-anchor="middle" transform="rotate(-90 127.6 2026.3)">Species Count</text>
<text x="2" y="2061.6" font-size="40.5" fill="#000" style="font-family:'Liberation Serif', serif" transform="translate(0 2061.6) scale(1 1.07) translate(0 -2061.6)">C</text>
<text x="1092.8" y="1904.8" font-size="39.5" fill="#000">Climate Change</text>
<text x="1092.8" y="1947.7" font-size="39.9" fill="#000">Risk Assessment</text>
<rect x="1094.0" y="1972.6" width="38.9" height="38.6" fill="#ff0000"/>
<text x="1153.6" y="2003.6" font-size="30.6" fill="#000">High</text>
<rect x="1094.0" y="2015" width="38.9" height="38.6" fill="#ff6347"/>
<text x="1153.6" y="2046" font-size="30.6" fill="#000">Medium-high</text>
<rect x="1094.0" y="2057.4" width="38.9" height="38.6" fill="#0000ff"/>
<text x="1153.6" y="2088.4" font-size="30.6" fill="#000">Medium</text>
<rect x="1094.0" y="2099.8" width="38.9" height="38.6" fill="#32cd32"/>
<text x="1153.6" y="2130.8" font-size="30.6" fill="#000">Medium-low</text>
<rect x="1094.0" y="2142.2" width="38.9" height="38.6" fill="#006400"/>
<text x="1153.6" y="2173.2" font-size="30.6" fill="#000">Low</text>
</svg>
</body></html>
